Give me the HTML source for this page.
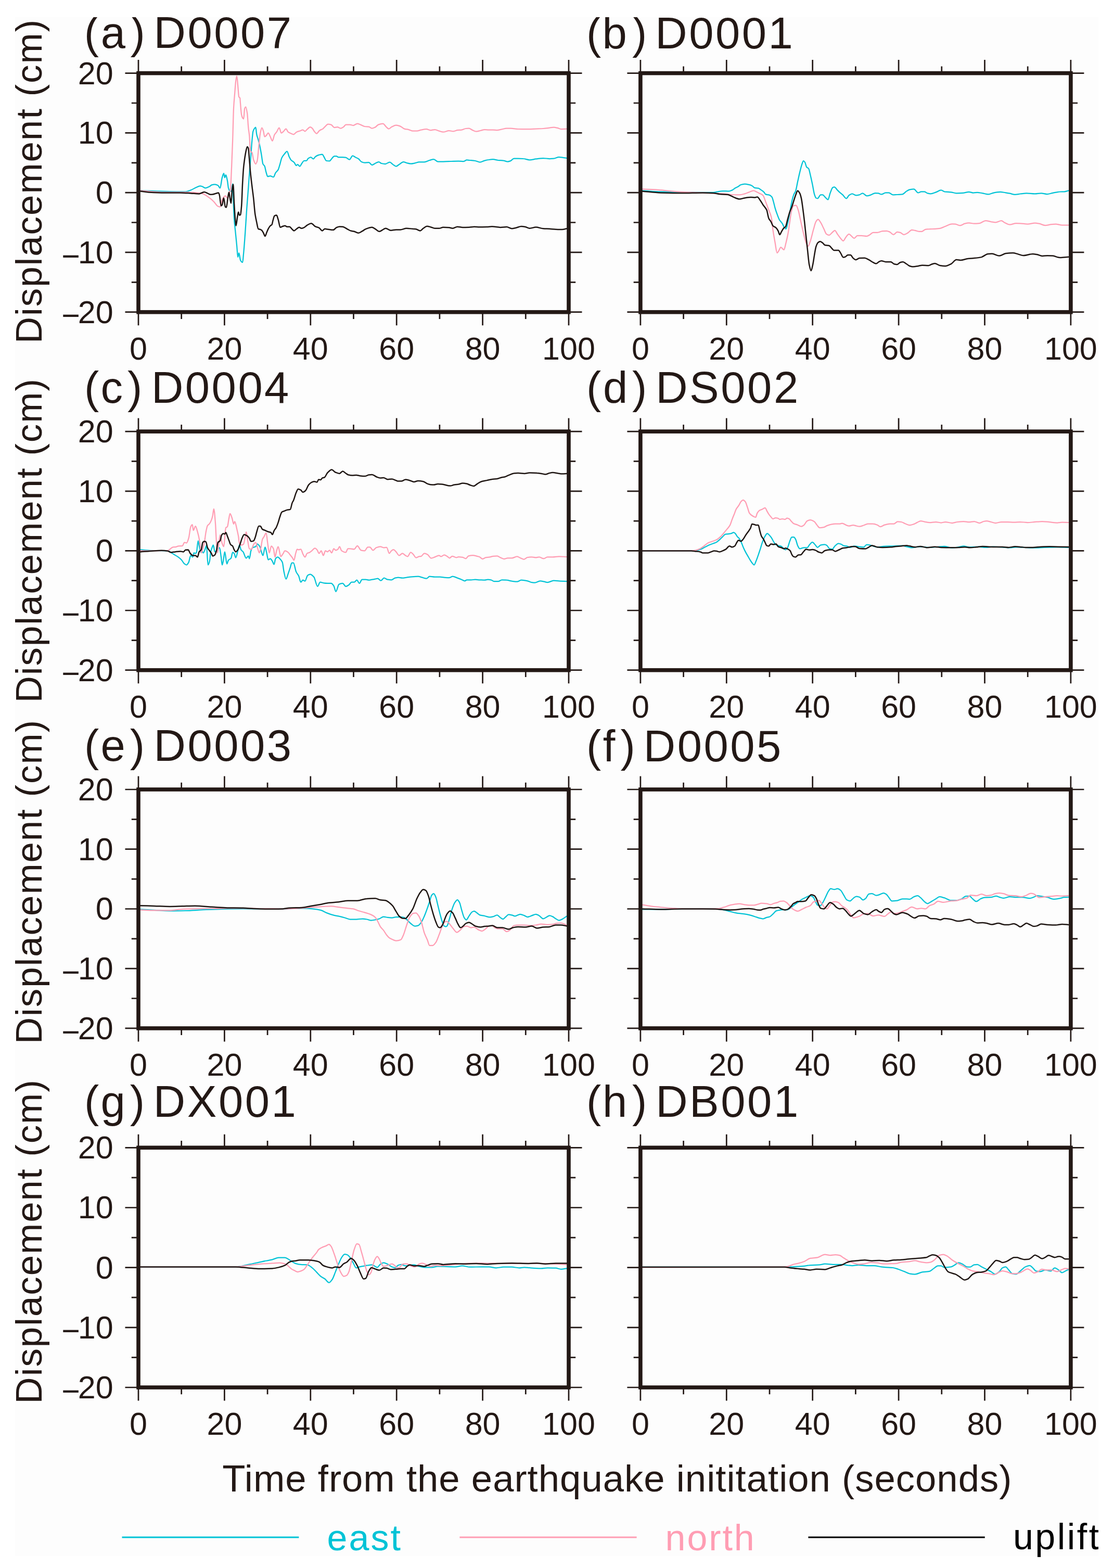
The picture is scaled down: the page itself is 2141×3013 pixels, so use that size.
<!DOCTYPE html>
<html><head><meta charset="utf-8"><title>Displacement time series</title>
<style>html,body{margin:0;padding:0;background:#ffffff;overflow:hidden}svg{display:block}text{font-family:"Liberation Sans",Arial,Helvetica,sans-serif;fill:#231815}</style></head><body>
<svg width="2141" height="3013" viewBox="0 0 2141 3013">
<defs>
<clipPath id="clipAll"><rect x="29" y="33" width="2082" height="2980"/></clipPath>
<clipPath id="cpa"><rect x="266" y="140.6" width="827" height="459.1"/></clipPath>
<clipPath id="cpb"><rect x="1230.9" y="140.6" width="827" height="459.1"/></clipPath>
<clipPath id="cpc"><rect x="266" y="829.1" width="827" height="458.6"/></clipPath>
<clipPath id="cpd"><rect x="1230.9" y="829.1" width="827" height="458.6"/></clipPath>
<clipPath id="cpe"><rect x="266" y="1517" width="827" height="458.9"/></clipPath>
<clipPath id="cpf"><rect x="1230.9" y="1517" width="827" height="458.9"/></clipPath>
<clipPath id="cpg"><rect x="266" y="2205.3" width="827" height="460.7"/></clipPath>
<clipPath id="cph"><rect x="1230.9" y="2205.3" width="827" height="460.7"/></clipPath>
</defs>
<rect x="29" y="33" width="2082" height="2957" fill="#fdfdfd"/>
<g clip-path="url(#clipAll)">
<g clip-path="url(#cpa)" fill="none" stroke-linejoin="round" stroke-linecap="round">
<path stroke="#00c3d6" stroke-width="2.25" d="M270 366.4C298.9 367 327.7 368.4 356.5 368.4C359.9 368.4 363.3 366.6 366.6 365.4C370 364.1 373.3 361.8 376.7 360.3C379.3 359.2 382 357.3 384.7 357.3C386.1 357.3 387.4 357.9 388.7 358.3C390.7 359 392.8 361.3 394.8 361.3C397.5 361.3 400.1 359.7 402.8 358.3C404.2 357.6 405.5 355.7 406.8 355.3C408.9 354.7 410.9 354.3 412.9 354.3C414.9 354.3 416.9 355.2 418.9 356.3C420.3 357 421.6 361.3 422.9 361.3C424.3 361.3 425.6 345.8 427 341.2C428 337.8 429 333.2 430 333.2C430.7 333.2 431.3 341.2 432 341.2C432.7 341.2 433.3 336.2 434 336.2C435 336.2 436 342.3 437 347.2C437.7 350.5 438.4 359.2 439 361.3C440 364.6 441.1 367.4 442.1 367.4C443.1 367.4 444.1 367.4 445.1 367.4C445.7 367.4 446.4 353.3 447.1 353.3C447.8 353.3 448.4 387.1 449.1 401.6C449.4 408.8 449.8 417 450.1 421.7C450.8 431 451.4 435.1 452.1 441.8C453.1 451.9 454.1 461.4 455.1 472C455.8 479 456.5 494.1 457.1 494.1C457.8 494.1 458.5 486.1 459.2 486.1C460.2 486.1 461.2 498.5 462.2 500.2C463.5 502.4 464.9 504.2 466.2 504.2C466.9 504.2 467.5 493.1 468.2 486.1C469.2 475.6 470.2 461.8 471.2 447.8C472.2 433.9 473.2 415.9 474.2 401.6C475.3 387.2 476.3 374.7 477.3 361.3C478.3 347.9 479.3 333.7 480.3 321.1C481 312.6 481.6 305.3 482.3 296.9C483 288.6 483.6 277.9 484.3 270.8C485 263.7 485.7 255 486.3 252.7C487.3 249.2 488.3 248 489.3 246.6C490 245.8 490.7 244.6 491.4 244.6C492 244.6 492.7 255.6 493.4 258.7C494.4 263.4 495.4 265.1 496.4 268.8C497.4 272.4 498.4 276.2 499.4 280.8C500.4 285.4 501.4 291.3 502.4 296.9C503.4 302.6 504.4 312.9 505.4 315.1C506.4 317.2 507.4 317.1 508.5 319.1C509.5 321.1 510.5 327.9 511.5 331.1C512.5 334.4 513.5 339.2 514.5 339.2C516.2 339.2 517.8 338.2 519.5 338.2C521.5 338.2 523.5 340.2 525.6 340.2C526.9 340.2 528.2 334.2 529.6 332.2C531.3 329.6 532.9 329.1 534.6 326.1C535.6 324.3 536.6 320.3 537.6 317.1C539 312.7 540.3 305.7 541.7 303C543.3 299.6 545 297.9 546.7 295.9C548.4 294 550 290.9 551.7 290.9C553.1 290.9 554.4 298.2 555.7 301C557.1 303.7 558.4 306.7 559.8 308C560.8 309 561.8 309.2 562.8 310C563.9 310.9 565 311.7 566 313C567 314.2 568 318.1 569.1 318.1C570.1 318.1 571.1 316.1 572.1 316.1C573.4 316.1 574.8 319.7 576.1 319.7C577.4 319.7 578.8 315.8 580.1 314C581.5 312.3 582.8 309.2 584.1 309C585.8 308.8 587.5 308.9 589.2 308.6C590.2 308.4 591.2 305.4 592.2 304.6C593.9 303.3 595.5 302 597.2 302C598.9 302 600.6 305.4 602.3 305.4C603.6 305.4 604.9 301.9 606.3 301C608.3 299.5 610.3 298.5 612.3 297.9C614.7 297.3 617 296.5 619.4 296.5C620.4 296.5 621.4 299.4 622.4 301C624.1 303.5 625.7 308.8 627.4 309C629.4 309.3 631.4 309.4 633.4 309.4C634.8 309.4 636.1 306.4 637.5 305C639.1 303.2 640.8 300 642.5 300C643.8 300 645.2 300 646.5 300C647.9 300 649.2 302 650.5 302C653.2 302 655.9 302 658.6 302C660.6 302 662.6 302.2 664.6 302.6C667 303 669.3 306.6 671.7 306.6C673.7 306.6 675.7 299.4 677.7 299.4C679.4 299.4 681.1 301.1 682.7 302C684.7 303 686.8 303.6 688.8 305C690.8 306.3 692.8 310.2 694.8 311C696.8 311.9 698.8 312.6 700.8 312.6C703.5 312.6 706.2 312 708.9 312C710.9 312 712.9 317.1 714.9 317.1C716.9 317.1 719 315 721 314C723.3 313 725.7 311 728 311C729.7 311 731.4 313.6 733 314C735.4 314.6 737.7 315.1 740.1 315.1C743.1 315.1 746.1 311.6 749.1 311.6C751.1 311.6 753.2 314.8 755.2 316.1C757.2 317.3 759.2 319.5 761.2 319.5C763.2 319.5 765.2 317.2 767.2 316.1C769.9 314.5 772.6 311 775.3 311C777.3 311 779.3 312.5 781.3 313C784 313.7 786.7 314.6 789.4 314.6C792.1 314.6 794.7 313.9 797.4 313.4C800.1 312.9 802.8 311.4 805.5 311.4C808.8 311.4 812.2 311.4 815.5 311.4C818.9 311.4 822.2 309 825.6 308C828.3 307.2 831 306 833.6 306C836.3 306 839 310.6 841.7 310.6C845 310.6 848.4 310.6 851.8 310.6C856.9 310.6 862 310.2 867.1 310C871.8 309.8 876.5 309.6 881.2 309.6C884.5 309.6 887.9 310 891.2 310C893.2 310 895.2 307.4 897.2 307.4C899.3 307.4 901.3 307.8 903.3 308C906.6 308.3 910 308.5 913.3 309C916.4 309.4 919.4 311.6 922.4 311.6C925.4 311.6 928.4 309.3 931.4 308.6C934.1 307.9 936.8 307.3 939.5 307C942.2 306.6 944.9 306.2 947.5 306.2C950.9 306.2 954.2 307.7 957.6 308C960.9 308.3 964.3 308.2 967.7 308.6C970.3 308.8 973 310.6 975.7 310.6C977.4 310.6 979.1 310 980.7 309.4C983.1 308.6 985.4 304.6 987.8 304.6C990.5 304.6 993.1 304.6 995.8 304.6C999.2 304.6 1002.5 304.7 1005.9 305C1009.9 305.2 1013.9 307.4 1017.9 307.4C1022 307.4 1026 305.9 1030 305.4C1034.7 304.8 1039.4 304 1044.1 304C1048.1 304 1052.1 305 1056.2 305C1058.8 305 1061.5 304.8 1064.2 304.6C1067.6 304.3 1070.9 301.9 1074.3 301.9C1077 301.9 1079.6 302.6 1082.3 302.9C1084.7 303.3 1087 303.6 1089.4 304"/>
<path stroke="#ff9db3" stroke-width="2.25" d="M270 366.4C285.5 367.4 300.9 369.4 316.3 369.4C329.7 369.4 343.1 369.4 356.5 369.4C366.6 369.4 376.7 370.1 386.7 371.4C392.1 372.1 397.5 376.7 402.8 380.4C405.5 382.3 408.2 384.8 410.9 387.5C413.6 390.1 416.2 395.5 418.9 396.5C420.3 397.1 421.6 397.5 422.9 397.5C424.3 397.5 425.6 385.9 427 383.5C429 379.8 431 376.4 433 376.4C434.3 376.4 435.7 380.4 437 380.4C438.4 380.4 439.7 375.7 441.1 371.4C441.7 369.2 442.4 366.7 443.1 361.3C443.7 356 444.4 336 445.1 321.1C445.7 306.2 446.4 289.6 447.1 270.8C447.8 252 448.4 218.8 449.1 206.4C449.8 194 450.4 188.6 451.1 180.2C451.8 171.9 452.5 160.8 453.1 156.1C453.8 151.4 454.5 146 455.1 146C455.8 146 456.5 157.5 457.1 164.1C457.8 170.8 458.5 185 459.2 186.3C459.8 187.5 460.5 186.9 461.2 188.3C461.5 189 461.8 196.7 462.2 200.4C462.8 207.8 463.5 217.4 464.2 220.5C464.9 223.6 465.5 225.5 466.2 226.5C466.9 227.5 467.5 228.5 468.2 228.5C468.9 228.5 469.6 210.2 470.2 208.4C470.9 206.7 471.6 205.4 472.2 205.4C473.2 205.4 474.2 211.7 475.3 218.5C475.9 223 476.6 238 477.3 244.6C477.9 251.3 478.6 253.7 479.3 260.7C480 267.7 480.6 290 481.3 290.9C482.3 292.3 483.3 291.7 484.3 292.9C485.3 294.1 486.3 304.1 487.3 307C488.7 310.8 490 315.1 491.4 315.1C492.4 315.1 493.4 312.3 494.4 309C495.4 305.7 496.4 289.9 497.4 280.8C498.4 271.8 499.4 259.2 500.4 254.7C501.4 250.2 502.4 245.6 503.4 245.6C504.4 245.6 505.4 249.4 506.4 252.7C507.1 254.9 507.8 262.7 508.5 262.7C509.5 262.7 510.5 261.6 511.5 260.7C512.8 259.6 514.2 255.7 515.5 255.7C516.8 255.7 518.2 260.2 519.5 262.7C520.9 265.2 522.2 270.8 523.5 270.8C524.9 270.8 526.2 261.1 527.6 258.7C528.9 256.3 530.3 255.6 531.6 253.7C533.3 251.3 534.9 245.6 536.6 245.6C538 245.6 539.3 255.7 540.6 255.7C542 255.7 543.3 253.8 544.7 252.7C546.3 251.2 548 247.6 549.7 247.6C551 247.6 552.4 252.6 553.7 253.7C555.7 255.2 557.8 255.8 559.8 256.7C561.2 257.3 562.6 258.3 564 258.3C566 258.3 568 254.6 570.1 253.7C572.1 252.7 574.1 252.3 576.1 251.7C578.1 251 580.1 249.7 582.1 249.7C583.5 249.7 584.8 252.3 586.2 252.3C587.5 252.3 588.8 249.7 590.2 248.7C592.2 247 594.2 244.2 596.2 244.2C597.6 244.2 598.9 245.5 600.2 246.6C601.6 247.8 602.9 251.1 604.3 252.7C605.6 254.3 606.9 256.7 608.3 256.7C610.3 256.7 612.3 252 614.3 250.7C616.3 249.3 618.4 249 620.4 247.6C621.7 246.7 623 244.8 624.4 243.6C626.4 241.8 628.4 238.6 630.4 238.6C632.4 238.6 634.4 239 636.5 239.6C638.5 240.2 640.5 245 642.5 245C644.5 245 646.5 244.2 648.5 244.2C650.5 244.2 652.6 246.6 654.6 246.6C656.6 246.6 658.6 245 660.6 243.6C661.9 242.7 663.3 239.6 664.6 239.6C667.3 239.6 670 239.6 672.7 239.6C674.7 239.6 676.7 241 678.7 241C681.4 241 684.1 237.6 686.8 237.6C688.8 237.6 690.8 238.9 692.8 239.6C695.5 240.6 698.2 242.7 700.8 243C703.5 243.4 706.2 243.3 708.9 243.6C710.9 243.9 712.9 246.6 714.9 246.6C716.9 246.6 719 245.6 721 244.6C723 243.7 725 240.3 727 239.6C730 238.5 733 237.6 736.1 237.6C738.1 237.6 740.1 241.8 742.1 243.6C743.8 245.1 745.4 247.6 747.1 247.6C749.1 247.6 751.1 244.6 753.2 243.6C755.8 242.3 758.5 240.6 761.2 240.6C763.9 240.6 766.6 241.7 769.3 242.6C771.9 243.6 774.6 246.9 777.3 247.6C780 248.4 782.7 248.4 785.4 249.1C788 249.7 790.7 251.7 793.4 251.7C796.1 251.7 798.8 251.7 801.4 251.7C804.1 251.7 806.8 250.1 809.5 249.7C812.9 249 816.2 248.2 819.6 248.2C822.2 248.2 824.9 250.3 827.6 250.3C830.3 250.3 833 249.1 835.7 249.1C838.3 249.1 841 250.9 843.7 251.7C846.4 252.4 849.1 253.7 851.8 253.7C855.5 253.7 859.3 251.2 863 251.2C865.7 251.2 868.4 252.3 871.1 252.3C873.8 252.3 876.5 250.5 879.1 250.2C881.8 249.9 884.5 250 887.2 249.6C889.9 249.3 892.6 247.3 895.2 247C897.2 246.8 899.3 246.6 901.3 246.6C903.3 246.6 905.3 248.8 907.3 249.6C910 250.8 912.7 252.7 915.4 252.7C918 252.7 920.7 251.6 923.4 251C926.1 250.4 928.8 249 931.4 249C934.1 249 936.8 249.6 939.5 249.6C942.2 249.6 944.9 249.6 947.5 249.6C950.2 249.6 952.9 250.2 955.6 250.2C958.3 250.2 960.9 249.2 963.6 248.6C967 248 970.3 246.6 973.7 246.6C976.4 246.6 979.1 246.6 981.7 246.6C986.4 246.6 991.1 247.9 995.8 248C1001.9 248.2 1007.9 248.2 1013.9 248.2C1019.3 248.2 1024.7 247.8 1030 247.6C1034.7 247.4 1039.4 247.3 1044.1 247C1048.1 246.8 1052.1 246.1 1056.2 245.6C1058.8 245.3 1061.5 244.6 1064.2 244.6C1066.9 244.6 1069.6 245.6 1072.3 246.2C1074.3 246.7 1076.3 248 1078.3 248C1082 248 1085.7 247.8 1089.4 247.6"/>
<path stroke="#1e1512" stroke-width="2.5" d="M270 367.4C275.4 368 280.8 369.1 286.1 369.4C296.2 369.9 306.2 370.4 316.3 370.4C326.4 370.4 336.4 370.4 346.5 370.4C353.2 370.4 359.9 371 366.6 371.4C372 371.7 377.3 372.4 382.7 372.4C384 372.4 385.4 371.4 386.7 371C388.7 370.3 390.7 369 392.8 369C394.8 369 396.8 370.6 398.8 371.4C400.8 372.2 402.8 373.8 404.8 373.8C406.2 373.8 407.5 373.6 408.9 373.4C410.9 373.1 412.9 372.3 414.9 371.8C416.6 371.3 418.2 370.4 419.9 370.4C420.6 370.4 421.3 373 421.9 375.4C422.9 379 423.9 395.5 425 395.5C425.6 395.5 426.3 394.6 427 393.5C428 392 429 380.4 430 380.4C431 380.4 432 396.7 433 397.5C433.7 398.1 434.3 398.6 435 398.6C436 398.6 437 385 438 379.4C438.7 375.7 439.4 369.4 440 369.4C440.7 369.4 441.4 378 442.1 381.4C442.7 384.9 443.4 390.5 444.1 390.5C444.7 390.5 445.4 370.5 446.1 365.4C446.8 360.2 447.4 354.3 448.1 354.3C448.8 354.3 449.4 380.4 450.1 391.5C450.8 402.6 451.4 414.5 452.1 421.7C452.6 426.7 453.1 433.8 453.5 433.8C454.4 433.8 455.3 422.5 456.1 417.7C456.8 414 457.5 407.6 458.2 407.6C458.8 407.6 459.5 413.6 460.2 413.6C460.8 413.6 461.5 413.3 462.2 412.6C462.8 412 463.5 403.8 464.2 395.5C464.9 387.3 465.5 363.2 466.2 351.3C466.9 339.3 467.5 328.1 468.2 321.1C468.9 314.1 469.6 309.6 470.2 305C470.9 300.4 471.6 296 472.2 292.9C473.2 288.3 474.2 281.9 475.3 281.9C475.9 281.9 476.6 283.1 477.3 284.9C477.9 286.6 478.6 299.3 479.3 307C480 314.7 480.6 324.3 481.3 331.1C482.3 341.4 483.3 348.9 484.3 357.3C485.3 365.7 486.3 372.5 487.3 381.4C488.3 390.4 489.3 404.6 490.3 411.6C491.4 418.6 492.4 423.1 493.4 427.7C494.4 432.3 495.4 439.3 496.4 439.8C497.7 440.5 499.1 440.3 500.4 440.8C501.4 441.2 502.4 441.9 503.4 442.8C504.4 443.8 505.4 446 506.4 447.8C507.4 449.7 508.5 453.9 509.5 453.9C510.5 453.9 511.5 449.2 512.5 446.8C513.5 444.5 514.5 441.7 515.5 439.8C516.8 437.3 518.2 435 519.5 433.8C520.5 432.9 521.5 433 522.5 431.8C523.2 430.9 523.9 426 524.6 423.7C525.6 420.2 526.6 415.1 527.6 414.6C528.9 414 530.3 413.6 531.6 413.6C532.6 413.6 533.6 418.6 534.6 421.7C536 425.8 537.3 436.8 538.6 436.8C540.3 436.8 542 435.3 543.7 434.8C545 434.4 546.3 433.8 547.7 433.8C549 433.8 550.4 435.8 551.7 435.8C553.4 435.8 555.1 435.8 556.7 435.8C558.1 435.8 559.4 438.6 560.8 439.8C562.2 441.1 563.6 443.4 565 443.4C566.7 443.4 568.4 440.9 570.1 439.8C571.7 438.7 573.4 436.8 575.1 436.8C576.4 436.8 577.8 438.8 579.1 438.8C580.8 438.8 582.5 438.1 584.1 437.4C586.2 436.6 588.2 433.9 590.2 432.8C592.9 431.3 595.5 429.3 598.2 429.3C600.9 429.3 603.6 434.1 606.3 435.4C608.6 436.5 611 436.6 613.3 437.8C615.3 438.8 617.3 443.4 619.4 443.4C621 443.4 622.7 439.8 624.4 439.8C626.1 439.8 627.7 440.2 629.4 440.4C633.1 440.9 636.8 441.8 640.5 441.8C642.5 441.8 644.5 438.3 646.5 437.4C648.5 436.5 650.5 435.4 652.6 435.4C654.6 435.4 656.6 435.6 658.6 435.8C661.9 436.1 665.3 439.1 668.7 440.8C670.3 441.7 672 442.9 673.7 443.4C676 444.1 678.4 444.2 680.7 444.8C683.4 445.5 686.1 447.8 688.8 447.8C691.5 447.8 694.1 445.3 696.8 443.8C698.8 442.7 700.8 441 702.9 440.2C706.9 438.6 710.9 436.8 714.9 436.8C716.9 436.8 719 438.7 721 439.8C723.6 441.3 726.3 444.8 729 444.8C731 444.8 733 442.8 735.1 441.8C737.1 440.8 739.1 438.8 741.1 438.8C744.4 438.8 747.8 442.8 751.1 442.8C754.5 442.8 757.9 441.4 761.2 441.4C763.9 441.4 766.6 441.4 769.3 441.4C773.3 441.4 777.3 438.8 781.3 438.8C785.4 438.8 789.4 439.5 793.4 439.8C795.4 439.9 797.4 440 799.4 440.2C802.1 440.5 804.8 443.4 807.5 443.4C809.5 443.4 811.5 440.1 813.5 438.8C815.9 437.2 818.2 434.8 820.6 434.8C822.9 434.8 825.3 435.6 827.6 436.2C830.3 436.8 833 438.8 835.7 438.8C838.3 438.8 841 438.8 843.7 438.8C846.4 438.8 849.1 436.8 851.8 436.8C855.5 436.8 859.3 437 863 437.3C865.4 437.5 867.7 438.7 870.1 438.7C873.1 438.7 876.1 435.7 879.1 435.7C882.5 435.7 885.8 436.9 889.2 436.9C893.2 436.9 897.2 436.8 901.3 436.7C904.6 436.6 908 435.7 911.3 435.7C914.7 435.7 918 436.3 921.4 436.3C926.1 436.3 930.8 436.2 935.5 436.1C938.8 436 942.2 435.3 945.5 435.3C950.9 435.3 956.3 436.9 961.6 436.9C965.6 436.9 969.7 436.1 973.7 436.1C977 436.1 980.4 439.3 983.7 439.3C986.4 439.3 989.1 438.3 991.8 437.7C995.1 437 998.5 435.1 1001.9 435.1C1004.5 435.1 1007.2 435.6 1009.9 436.1C1012.6 436.6 1015.3 438.7 1017.9 438.7C1022 438.7 1026 436.5 1030 436.5C1034.7 436.5 1039.4 439.1 1044.1 439.3C1048.1 439.6 1052.1 439.5 1056.2 439.7C1060.2 439.9 1064.2 440.6 1068.2 440.7C1072.3 440.9 1076.3 441.1 1080.3 441.1C1083.3 441.1 1086.3 439.9 1089.4 439.3"/>
</g>
<g clip-path="url(#cpb)" fill="none" stroke-linejoin="round" stroke-linecap="round">
<path stroke="#00c3d6" stroke-width="2.25" d="M1234 366.4C1246.1 367 1258.2 368 1270.2 368.4C1283.7 368.8 1297.1 369.2 1310.5 369.4C1323.9 369.6 1337.3 369.8 1350.7 369.8C1357.4 369.8 1364.1 369.8 1370.8 369.8C1373.5 369.8 1376.2 368.8 1378.9 368.4C1382.2 367.8 1385.6 367 1389 367C1393 367 1397 367.4 1401 367.4C1403 367.4 1405.1 366.2 1407.1 365.4C1409.1 364.5 1411.1 362.5 1413.1 361.3C1415.1 360.2 1417.1 359.5 1419.1 358.3C1420.5 357.5 1421.8 355.7 1423.2 355.3C1425.8 354.4 1428.5 353.7 1431.2 353.7C1433.9 353.7 1436.6 354.3 1439.3 354.9C1441.3 355.3 1443.3 355.9 1445.3 356.9C1447 357.7 1448.6 360.6 1450.3 360.9C1452.7 361.4 1455 361.3 1457.4 361.7C1459.4 362.1 1461.4 364 1463.4 365.4C1465.1 366.5 1466.8 367.7 1468.4 369.4C1469.4 370.4 1470.4 373.1 1471.4 373.4C1473.5 374.1 1475.5 373.9 1477.5 374.4C1479.5 374.9 1481.5 376.1 1483.5 378.4C1484.5 379.6 1485.5 384 1486.5 387.5C1487.5 390.9 1488.6 396.1 1489.6 399.6C1490.9 404.2 1492.2 408 1493.6 411.6C1494.9 415.3 1496.3 419.3 1497.6 421.7C1499.6 425.3 1501.6 426.4 1503.6 429.7C1504.6 431.4 1505.7 434.4 1506.7 435.8C1508 437.6 1509.3 439.8 1510.7 439.8C1511.7 439.8 1512.7 433.7 1513.7 429.7C1515 424.4 1516.4 416.6 1517.7 409.6C1519.1 402.6 1520.4 393.2 1521.8 387.5C1523.1 381.7 1524.4 376.6 1525.8 373.4C1526.9 370.8 1527.9 370.2 1529 367.4C1530.4 363.9 1531.7 355.3 1533 349.3C1534.4 343.2 1535.7 336.6 1537.1 331.1C1538.4 325.7 1539.8 319.9 1541.1 316.1C1542.1 313.2 1543.1 309 1544.1 309C1545.1 309 1546.1 310.5 1547.1 312C1548.1 313.5 1549.1 319.8 1550.2 321.1C1551.5 322.7 1552.8 322.4 1554.2 324.1C1555.2 325.4 1556.2 331.1 1557.2 335.2C1558.5 340.6 1559.9 346.9 1561.2 353.3C1562.6 359.6 1563.9 369.2 1565.2 373.4C1566.2 376.5 1567.3 379.9 1568.3 380.4C1569.3 381 1570.3 381.4 1571.3 381.4C1573.3 381.4 1575.3 374.4 1577.3 374.4C1578.7 374.4 1580 374.4 1581.3 374.4C1582.7 374.4 1584 377.2 1585.4 378.4C1587.4 380.3 1589.4 383.5 1591.4 383.5C1592.7 383.5 1594.1 374.8 1595.4 371.4C1597.1 367.1 1598.8 361.2 1600.5 360.3C1601.5 359.8 1602.5 359.3 1603.5 359.3C1605.5 359.3 1607.5 363.3 1609.5 365.4C1610.8 366.7 1612.2 368.1 1613.5 369.4C1615.5 371.2 1617.6 372.6 1619.6 374.4C1621.9 376.5 1624.3 381.4 1626.6 381.4C1628.3 381.4 1630 376.6 1631.6 375.4C1633.7 374 1635.7 372.4 1637.7 372.4C1640.4 372.4 1643 375.4 1645.7 375.4C1647.7 375.4 1649.7 374.9 1651.8 374.4C1653.8 373.9 1655.8 371.4 1657.8 371.4C1660.5 371.4 1663.2 376.4 1665.8 376.4C1668.5 376.4 1671.2 375.3 1673.9 374.4C1676.6 373.6 1679.3 371 1681.9 371C1684 371 1686 371.2 1688 371.4C1690 371.6 1692 373.4 1694 373.4C1696.7 373.4 1699.4 370.4 1702.1 370.4C1704.1 370.4 1706.1 370.4 1708.1 370.4C1710.8 370.4 1713.5 374.4 1716.1 374.4C1718.8 374.4 1721.5 374.1 1724.2 374C1727.5 373.8 1730.9 373.8 1734.3 373.4C1736.9 373.1 1739.6 369 1742.3 367.4C1744.3 366.2 1746.3 364.8 1748.3 364.3C1751 363.8 1753.7 363.3 1756.4 363.3C1759.1 363.3 1761.8 370.4 1764.4 370.4C1766.4 370.4 1768.5 368.4 1770.5 368.4C1772.5 368.4 1774.5 368.4 1776.5 368.4C1778.5 368.4 1780.5 370.9 1782.5 371.4C1784.6 371.9 1786.6 372.4 1788.6 372.4C1791.9 372.4 1795.3 370.5 1798.6 369.4C1802 368.2 1805.3 365.4 1808.7 365.4C1811 365.4 1813.4 368 1815.7 368.4C1819.8 368.9 1823.9 368.9 1828 369.3C1831.4 369.7 1834.8 371.3 1838.1 371.3C1842.1 371.3 1846.2 371.2 1850.2 370.9C1854.2 370.7 1858.2 368.9 1862.2 368.9C1864.9 368.9 1867.6 370.5 1870.3 370.5C1873 370.5 1875.7 369.9 1878.3 369.9C1881.7 369.9 1885 370.8 1888.4 371.3C1892.1 371.9 1895.8 373.4 1899.5 373.4C1903.1 373.4 1906.8 370.9 1910.5 370.3C1914.5 369.7 1918.6 368.9 1922.6 368.9C1925.9 368.9 1929.3 369.8 1932.7 370.3C1935.3 370.8 1938 371.2 1940.7 371.7C1944.1 372.4 1947.4 373.8 1950.8 373.8C1954.1 373.8 1957.5 372.9 1960.8 372.5C1964.8 372.1 1968.9 371.3 1972.9 371.3C1978.3 371.3 1983.6 372.3 1989 372.3C1993 372.3 1997 371.3 2001.1 371.3C2004.7 371.3 2008.4 373 2012.1 373C2015.8 373 2019.5 371.6 2023.2 370.9C2027.9 370.1 2032.6 368.7 2037.3 368.5C2039.9 368.4 2042.6 368.4 2045.3 368.3C2048 368.2 2050.7 367 2053.4 366.3"/>
<path stroke="#ff9db3" stroke-width="2.25" d="M1234 363.3C1242.7 363.7 1251.5 363.9 1260.2 364.3C1270.2 364.9 1280.3 366.6 1290.4 367.4C1300.4 368.2 1310.5 368.9 1320.5 369.4C1330.6 369.8 1340.7 370 1350.7 370.4C1357.4 370.7 1364.1 371.1 1370.8 371.4C1377.6 371.7 1384.3 371.9 1391 372.4C1395.7 372.7 1400.4 373.8 1405.1 374C1410.4 374.2 1415.8 374.4 1421.1 374.4C1424.5 374.4 1427.9 373.3 1431.2 372.4C1433.9 371.7 1436.6 370.3 1439.3 369.4C1442.3 368.3 1445.3 366.4 1448.3 366.4C1450 366.4 1451.7 367.6 1453.3 368.4C1455.4 369.3 1457.4 370.3 1459.4 371.4C1461.7 372.6 1464.1 373.2 1466.4 375.4C1468.1 377 1469.8 383.3 1471.4 387.5C1473.5 392.6 1475.5 398.1 1477.5 403.6C1479.2 408.2 1480.8 410.4 1482.5 417.7C1483.5 422 1484.5 434.9 1485.5 441.8C1486.9 451.1 1488.2 458.6 1489.6 466C1490.9 473.3 1492.2 486.1 1493.6 486.1C1494.6 486.1 1495.6 483.6 1496.6 482.1C1497.9 480 1499.3 475 1500.6 475C1502.6 475 1504.6 480 1506.7 480C1508 480 1509.3 471.2 1510.7 466C1512 460.7 1513.4 455.1 1514.7 447.8C1515.7 442.4 1516.7 434.4 1517.7 427.7C1518.7 421 1519.7 411.8 1520.7 407.6C1522.1 402 1523.4 396 1524.8 395.5C1526.5 394.9 1528.3 394.5 1530 394.5C1531.4 394.5 1532.7 399.6 1534.1 403.6C1535.7 408.5 1537.4 418.4 1539.1 425.7C1541.1 434.5 1543.1 444.1 1545.1 451.9C1546.5 457 1547.8 462.8 1549.1 466C1550.5 469.1 1551.8 473 1553.2 473C1554.5 473 1555.9 467.6 1557.2 463.9C1559.2 458.4 1561.2 448.7 1563.2 441.8C1564.9 436.1 1566.6 428.2 1568.3 425.7C1569.6 423.7 1570.9 421.7 1572.3 421.7C1574 421.7 1575.6 425.2 1577.3 427.7C1579.3 430.7 1581.3 435.8 1583.4 439.8C1585 443.2 1586.7 448.7 1588.4 449.9C1590.1 451 1591.7 451.9 1593.4 451.9C1595.4 451.9 1597.4 448.5 1599.4 446.8C1601.1 445.5 1602.8 442.8 1604.5 442.8C1606.2 442.8 1607.8 447.6 1609.5 449.9C1611.5 452.6 1613.5 455.6 1615.5 457.9C1617.2 459.8 1618.9 462.9 1620.6 462.9C1622.3 462.9 1623.9 457.9 1625.6 455.9C1627.6 453.5 1629.6 449.9 1631.6 449.9C1633.3 449.9 1635 452.5 1636.7 453.9C1638.3 455.2 1640 457.9 1641.7 457.9C1643.7 457.9 1645.7 452.9 1647.7 452.9C1650.4 452.9 1653.1 452.9 1655.8 452.9C1659.1 452.9 1662.5 453.9 1665.8 453.9C1667.9 453.9 1669.9 452 1671.9 450.9C1673.9 449.7 1675.9 446.8 1677.9 446.8C1680.6 446.8 1683.3 446.8 1686 446.8C1689.3 446.8 1692.7 444.5 1696 444.2C1698.7 444 1701.4 443.8 1704.1 443.8C1706.1 443.8 1708.1 444.9 1710.1 445.8C1712.5 446.9 1714.8 450.9 1717.2 450.9C1719.5 450.9 1721.8 445.8 1724.2 445.8C1726.2 445.8 1728.2 446.3 1730.2 446.8C1732.6 447.4 1734.9 450.9 1737.3 450.9C1739.6 450.9 1742 449.1 1744.3 447.8C1747 446.4 1749.7 441.8 1752.4 441.8C1754.4 441.8 1756.4 442.4 1758.4 442.8C1761.1 443.3 1763.8 444.8 1766.4 444.8C1768.1 444.8 1769.8 444.8 1771.5 444.8C1773.8 444.8 1776.2 441.1 1778.5 440.8C1781.2 440.4 1783.9 440.3 1786.6 440.2C1789.9 440 1793.3 440 1796.6 439.8C1800 439.6 1803.3 439.3 1806.7 438.8C1809.4 438.4 1812.1 436.8 1814.7 435.8C1819.8 433.9 1825 430.3 1830.1 430.3C1832.1 430.3 1834.1 430.5 1836.1 430.7C1839.1 431 1842.1 433.3 1845.1 433.3C1848.2 433.3 1851.2 430.4 1854.2 429.7C1856.9 429 1859.6 428.3 1862.2 428.3C1865.6 428.3 1869 429.7 1872.3 429.7C1875.7 429.7 1879 429.4 1882.4 429.1C1886.4 428.7 1890.4 424 1894.4 424C1897.8 424 1901.1 425.5 1904.5 426.1C1907.5 426.5 1910.5 427.3 1913.5 427.3C1917.2 427.3 1920.9 424.2 1924.6 424.2C1926.6 424.2 1928.6 426.7 1930.6 427.7C1934 429.3 1937.3 431.7 1940.7 431.7C1944.7 431.7 1948.7 429.1 1952.8 429.1C1955.5 429.1 1958.1 429.2 1960.8 429.3C1965.5 429.5 1970.2 430.7 1974.9 430.7C1979.6 430.7 1984.3 428.7 1989 428.7C1991.7 428.7 1994.3 429.2 1997 429.7C2001.1 430.4 2005.1 433.1 2009.1 433.1C2013.1 433.1 2017.1 431.4 2021.2 431.1C2023.8 430.9 2026.5 430.7 2029.2 430.7C2033.2 430.7 2037.3 432.7 2041.3 432.7C2045.3 432.7 2049.3 432.7 2053.4 432.7"/>
<path stroke="#1e1512" stroke-width="2.5" d="M1234 367.4C1246.1 368.4 1258.2 370.1 1270.2 370.4C1283.7 370.7 1297.1 371 1310.5 371C1323.9 371 1337.3 370.4 1350.7 370.4C1357.4 370.4 1364.1 370.6 1370.8 371C1374.9 371.2 1378.9 372.6 1382.9 373C1388.3 373.5 1393.6 373.4 1399 374C1401 374.2 1403 375.5 1405.1 376.4C1407.1 377.3 1409.1 378.7 1411.1 379.4C1414.4 380.7 1417.8 382.5 1421.1 382.5C1424.5 382.5 1427.9 380.9 1431.2 380.4C1435.2 379.8 1439.3 379 1443.3 379C1446 379 1448.6 379.4 1451.3 379.4C1452.7 379.4 1454 378.4 1455.4 378.4C1457.4 378.4 1459.4 382.7 1461.4 385.5C1463.1 387.7 1464.7 391 1466.4 393.5C1468.8 397.1 1471.1 398.4 1473.5 403.6C1474.8 406.5 1476.1 416.8 1477.5 419.7C1478.8 422.6 1480.2 423.4 1481.5 425.7C1482.9 428 1484.2 432.4 1485.5 433.8C1487.5 435.8 1489.6 435.9 1491.6 437.8C1492.9 439.1 1494.3 441.3 1495.6 443.8C1496.6 445.7 1497.6 450.9 1498.6 450.9C1499.6 450.9 1500.6 447.5 1501.6 445.8C1503.3 443.1 1505 439.3 1506.7 437.8C1507.7 436.9 1508.7 436.9 1509.7 435.8C1511 434.3 1512.4 426.4 1513.7 421.7C1515 417 1516.4 411.5 1517.7 407.6C1519.1 403.7 1520.4 401.2 1521.8 397.5C1524.2 391 1526.6 381.6 1529 375.4C1530.4 372 1531.7 366.4 1533 366.4C1534.4 366.4 1535.7 368.9 1537.1 371.4C1538.1 373.3 1539.1 377 1540.1 381.4C1541.1 385.9 1542.1 394.3 1543.1 401.6C1544.1 408.9 1545.1 417 1546.1 425.7C1547.1 434.4 1548.1 444.5 1549.1 453.9C1550.2 463.3 1551.2 473 1552.2 482.1C1553.2 491.1 1554.2 503.3 1555.2 508.2C1556.4 514.1 1557.6 520.3 1558.8 520.3C1559.9 520.3 1561.1 513.3 1562.2 508.2C1563.2 503.7 1564.2 495.8 1565.2 490.1C1566.2 484.4 1567.3 477 1568.3 474C1569.6 470 1570.9 467 1572.3 466C1573.6 464.9 1575 463.9 1576.3 463.9C1578 463.9 1579.7 465.7 1581.3 467C1582.7 468 1584 470.7 1585.4 471C1588 471.6 1590.7 471.4 1593.4 472C1595.4 472.5 1597.4 476 1599.4 478C1600.5 479 1601.5 481 1602.5 481C1605.5 481 1608.5 481 1611.5 481C1612.9 481 1614.2 484.2 1615.5 486.1C1617.2 488.5 1618.9 494.5 1620.6 494.5C1621.6 494.5 1622.6 494.3 1623.6 494.1C1625.6 493.7 1627.6 490.1 1629.6 490.1C1631.3 490.1 1633 490.1 1634.7 490.1C1636.3 490.1 1638 494.8 1639.7 496.1C1641.4 497.5 1643 499.2 1644.7 499.2C1647.1 499.2 1649.4 496.3 1651.8 496.1C1655.1 495.9 1658.5 495.7 1661.8 495.7C1664.5 495.7 1667.2 497.8 1669.9 499.2C1672.6 500.5 1675.2 502.9 1677.9 504.2C1679.9 505.2 1681.9 506.6 1684 506.6C1685.6 506.6 1687.3 504 1689 503.2C1690.7 502.3 1692.3 501.2 1694 501.2C1696.7 501.2 1699.4 503.2 1702.1 503.2C1705.4 503.2 1708.8 503.2 1712.1 503.2C1714.1 503.2 1716.1 506.7 1718.2 507.2C1720.2 507.7 1722.2 508.2 1724.2 508.2C1726.2 508.2 1728.2 504.8 1730.2 504.2C1731.9 503.7 1733.6 503.2 1735.3 503.2C1737.6 503.2 1740 505.8 1742.3 507.2C1744.3 508.4 1746.3 510.5 1748.3 511.2C1750.4 511.9 1752.4 512.6 1754.4 512.6C1757.7 512.6 1761.1 511.8 1764.4 511.2C1767.1 510.8 1769.8 509.8 1772.5 509.8C1776.5 509.8 1780.5 510.2 1784.6 510.2C1786.6 510.2 1788.6 508.5 1790.6 507.8C1792.6 507.2 1794.6 506.2 1796.6 506.2C1800 506.2 1803.3 509.7 1806.7 510.2C1810 510.8 1813.4 511.2 1816.8 511.2C1820.5 511.2 1824.3 509 1828 507.1C1831.4 505.4 1834.8 499.1 1838.1 499.1C1840.8 499.1 1843.5 500.1 1846.2 500.1C1850.8 500.1 1855.5 497.6 1860.2 497.1C1864.3 496.6 1868.3 496.5 1872.3 496.1C1877 495.6 1881.7 495.1 1886.4 494.1C1890.4 493.1 1894.4 488.4 1898.5 488C1901.1 487.8 1903.8 487.6 1906.5 487.6C1911.2 487.6 1915.9 491.6 1920.6 491.6C1924.6 491.6 1928.6 487.5 1932.7 487C1937.3 486.4 1942 486 1946.7 486C1950.1 486 1953.4 487.6 1956.8 488.4C1960.1 489.3 1963.5 491 1966.9 491C1972.9 491 1978.9 488 1985 488C1987.6 488 1990.3 488.6 1993 489C1996.4 489.6 1999.7 492 2003.1 492C2006.4 492 2009.8 491.2 2013.1 491.2C2016.5 491.2 2019.8 491.4 2023.2 491.6C2027.9 491.9 2032.6 495.1 2037.3 495.1C2042.6 495.1 2048 494.1 2053.4 493.7"/>
</g>
<g clip-path="url(#cpc)" fill="none" stroke-linejoin="round" stroke-linecap="round">
<path stroke="#00c3d6" stroke-width="2.25" d="M270 1056.4C278.7 1056.9 287.5 1057.8 296.2 1058C304.9 1058.2 313.6 1058.1 322.3 1058.4C324.4 1058.5 326.4 1060.2 328.4 1061.4C330.4 1062.5 332.4 1064.1 334.4 1065.4C337.1 1067.2 339.8 1068.5 342.5 1070.4C344.5 1071.9 346.5 1073.4 348.5 1075.5C350.5 1077.5 352.5 1082.1 354.5 1083.5C355.9 1084.5 357.2 1085.5 358.6 1085.5C359.9 1085.5 361.2 1082.9 362.6 1080.5C363.9 1078.1 365.3 1067.4 366.6 1067.4C367.9 1067.4 369.3 1070.4 370.6 1070.4C371.3 1070.4 372 1062.4 372.6 1062.4C373.6 1062.4 374.7 1063.4 375.7 1063.4C376.3 1063.4 377 1062.5 377.7 1061.4C378.7 1059.7 379.7 1039.3 380.7 1039.3C381.4 1039.3 382 1045.4 382.7 1048.3C383.7 1052.8 384.7 1061.4 385.7 1061.4C386.4 1061.4 387.1 1058.4 387.7 1058.4C388.7 1058.4 389.7 1062.4 390.7 1062.4C391.8 1062.4 392.8 1058.7 393.8 1056.4C394.8 1054.1 395.8 1048.3 396.8 1048.3C397.8 1048.3 398.8 1085.5 399.8 1085.5C400.8 1085.5 401.8 1082.3 402.8 1078.5C403.5 1075.9 404.2 1064.7 404.8 1061.4C405.5 1058.1 406.2 1056.3 406.8 1054.4C407.9 1051.5 408.9 1047.3 409.9 1047.3C410.9 1047.3 411.9 1060.4 412.9 1060.4C413.9 1060.4 414.9 1059.3 415.9 1058.4C416.9 1057.5 417.9 1055.2 418.9 1054.4C419.9 1053.5 420.9 1052.3 421.9 1052.3C422.9 1052.3 423.9 1063.7 425 1070.4C425.6 1075 426.3 1085.5 427 1085.5C427.6 1085.5 428.3 1081.4 429 1078.5C430 1074.1 431 1060.4 432 1060.4C433.3 1060.4 434.7 1083.5 436 1083.5C437 1083.5 438 1077.7 439 1076.5C440.7 1074.4 442.4 1074.8 444.1 1072.5C445.1 1071.1 446.1 1061.4 447.1 1061.4C448.1 1061.4 449.1 1062.3 450.1 1063.4C451.1 1064.5 452.1 1071.5 453.1 1071.5C454.5 1071.5 455.8 1063 457.1 1058.4C458.2 1054.9 459.2 1047.3 460.2 1047.3C461.2 1047.3 462.2 1054.8 463.2 1056.4C464.5 1058.4 465.9 1058.6 467.2 1060.4C469.2 1063 471.2 1072.5 473.2 1072.5C474.6 1072.5 475.9 1068.4 477.3 1068.4C477.9 1068.4 478.6 1073.5 479.3 1073.5C480.3 1073.5 481.3 1061.3 482.3 1058.4C483.3 1055.5 484.3 1053 485.3 1052.3C487.3 1051.1 489.3 1051.5 491.4 1050.3C492.4 1049.7 493.4 1045.3 494.4 1045.3C496 1045.3 497.7 1047.6 499.4 1050.3C500.4 1051.9 501.4 1057.6 502.4 1060.4C503.4 1063.1 504.4 1067.4 505.4 1067.4C506.8 1067.4 508.1 1051.3 509.5 1051.3C510.5 1051.3 511.5 1058.4 512.5 1062.4C513.5 1066.4 514.5 1075.5 515.5 1075.5C516.8 1075.5 518.2 1073.5 519.5 1073.5C520.9 1073.5 522.2 1076.4 523.5 1078.5C524.6 1080.1 525.6 1084.5 526.6 1084.5C527.6 1084.5 528.6 1074.8 529.6 1073.5C530.9 1071.7 532.3 1070.4 533.6 1070.4C535.3 1070.4 537 1072.7 538.6 1074.5C540 1075.9 541.3 1077.2 542.7 1080.5C543.7 1083 544.7 1094.1 545.7 1098.6C547 1104.6 548.4 1112.7 549.7 1112.7C551 1112.7 552.4 1106.3 553.7 1102.6C555.1 1099 556.4 1094.6 557.8 1090.6C558.8 1087.6 559.8 1081.5 560.8 1081.5C561.9 1081.5 562.9 1081.5 564 1081.5C565.7 1081.5 567.4 1095 569.1 1098.6C570.7 1102.3 572.4 1103.1 574.1 1106.7C575.4 1109.5 576.8 1118.7 578.1 1118.7C579.5 1118.7 580.8 1114.7 582.1 1114.7C583.5 1114.7 584.8 1116.7 586.2 1116.7C587.8 1116.7 589.5 1106.8 591.2 1105.7C592.9 1104.5 594.5 1103.6 596.2 1103.6C598.6 1103.6 600.9 1106.1 603.3 1108.7C605.6 1111.3 608 1126.8 610.3 1126.8C612 1126.8 613.7 1118.7 615.3 1118.7C617.7 1118.7 620 1120.1 622.4 1120.3C624.7 1120.6 627.1 1120.8 629.4 1120.8C631.8 1120.8 634.1 1120.8 636.5 1120.8C638.1 1120.8 639.8 1123.3 641.5 1125.8C642.8 1127.8 644.2 1136.8 645.5 1136.8C647.5 1136.8 649.5 1123.8 651.5 1122.8C653.9 1121.5 656.2 1120.8 658.6 1120.8C660.6 1120.8 662.6 1126.8 664.6 1126.8C666.6 1126.8 668.7 1125.1 670.7 1123.8C672.3 1122.6 674 1118.7 675.7 1118.7C677.4 1118.7 679 1118.7 680.7 1118.7C682.4 1118.7 684.1 1114.7 685.8 1114.7C687.4 1114.7 689.1 1120.8 690.8 1120.8C692.5 1120.8 694.1 1113.7 695.8 1113.7C698.2 1113.7 700.5 1113.7 702.9 1113.7C704.9 1113.7 706.9 1114.7 708.9 1114.7C710.9 1114.7 712.9 1114 714.9 1113.7C716.9 1113.4 719 1113.1 721 1112.7C722.6 1112.4 724.3 1111.7 726 1111.7C728 1111.7 730 1115.7 732 1115.7C734 1115.7 736.1 1110.7 738.1 1110.7C740.4 1110.7 742.8 1113.4 745.1 1113.7C747.5 1114 749.8 1114.3 752.2 1114.3C754.5 1114.3 756.8 1111.3 759.2 1110.7C761.2 1110.2 763.2 1109.7 765.2 1109.7C767.9 1109.7 770.6 1110.7 773.3 1110.7C776 1110.7 778.6 1110 781.3 1109.7C784.7 1109.2 788 1108.5 791.4 1108.3C795.4 1108 799.4 1107.7 803.5 1107.7C806.1 1107.7 808.8 1109 811.5 1109.7C814.2 1110.4 816.9 1111.7 819.6 1111.7C821.6 1111.7 823.6 1107.7 825.6 1107.7C828.9 1107.7 832.3 1108.7 835.7 1108.7C839 1108.7 842.4 1108.7 845.7 1108.7C848.4 1108.7 851.1 1109.5 853.8 1109.7C856.9 1109.9 860 1110.2 863 1110.2C865.4 1110.2 867.7 1107.6 870.1 1107.6C873.1 1107.6 876.1 1109.6 879.1 1110.6C881.8 1111.6 884.5 1112.6 887.2 1113.7C889.2 1114.5 891.2 1116.3 893.2 1116.3C894.6 1116.3 895.9 1114.3 897.2 1114.3C899.9 1114.3 902.6 1114.3 905.3 1114.3C908 1114.3 910.7 1113.7 913.3 1113.7C916 1113.7 918.7 1114.1 921.4 1114.3C924.7 1114.4 928.1 1114.7 931.4 1114.7C933.5 1114.7 935.5 1113.7 937.5 1113.7C939.5 1113.7 941.5 1113.9 943.5 1114.3C945.5 1114.6 947.5 1117.1 949.5 1117.1C952.2 1117.1 954.9 1117.1 957.6 1117.1C959.9 1117.1 962.3 1114.3 964.6 1114.3C967.7 1114.3 970.7 1114.4 973.7 1114.7C977 1114.9 980.4 1116.2 983.7 1116.7C987.1 1117.1 990.5 1117.7 993.8 1117.7C996.5 1117.7 999.2 1114.7 1001.9 1114.7C1005.9 1114.7 1009.9 1115.5 1013.9 1116.3C1016.6 1116.8 1019.3 1118.7 1022 1119.1C1024 1119.4 1026 1119.7 1028 1119.7C1031.4 1119.7 1034.7 1116.3 1038.1 1116.3C1040.7 1116.3 1043.4 1117.1 1046.1 1117.7C1048.1 1118.1 1050.1 1119.1 1052.1 1119.1C1056.2 1119.1 1060.2 1115.7 1064.2 1115.7C1068.2 1115.7 1072.3 1116.5 1076.3 1116.7C1080.6 1116.9 1085 1116.9 1089.4 1117.1"/>
<path stroke="#ff9db3" stroke-width="2.25" d="M270 1058.4C278.7 1058.4 287.5 1058.4 296.2 1058.4C304.9 1058.4 313.6 1058.3 322.3 1058C323.7 1057.9 325 1056.2 326.4 1055.4C328.4 1054 330.4 1051.6 332.4 1051.3C334.4 1051.1 336.4 1051.2 338.4 1050.9C339.8 1050.8 341.1 1049.5 342.5 1049.3C345.1 1049.1 347.8 1049.2 350.5 1048.9C351.8 1048.8 353.2 1042.3 354.5 1042.3C355.9 1042.3 357.2 1043.3 358.6 1043.3C359.9 1043.3 361.2 1038.5 362.6 1034.2C363.9 1029.9 365.3 1014.9 366.6 1012.1C367.6 1010 368.6 1008.1 369.6 1008.1C370.3 1008.1 371 1019.1 371.6 1019.1C373 1019.1 374.3 1011.1 375.7 1011.1C377 1011.1 378.3 1017.6 379.7 1022.2C381 1026.7 382.4 1032.7 383.7 1040.3C384.7 1045.9 385.7 1062.4 386.7 1062.4C387.7 1062.4 388.7 1057.6 389.7 1054.4C390.7 1051.1 391.8 1047.3 392.8 1042.3C393.8 1037.2 394.8 1027.2 395.8 1022.2C396.8 1017.1 397.8 1011.7 398.8 1010.1C400.1 1007.9 401.5 1007.9 402.8 1006.1C404.2 1004.3 405.5 1001.7 406.8 998C407.5 996.2 408.2 993.2 408.9 990C409.5 986.7 410.2 977.9 410.9 977.9C411.9 977.9 412.9 992 413.9 1004.1C414.6 1012.1 415.2 1031.1 415.9 1040.3C416.6 1049.4 417.2 1062.4 417.9 1062.4C418.6 1062.4 419.3 1054.7 419.9 1050.3C420.9 1043.7 421.9 1028.2 422.9 1028.2C424.3 1028.2 425.6 1040.8 427 1044.3C428 1046.9 429 1050.3 430 1050.3C431.3 1050.3 432.7 1015.7 434 1014.1C435 1012.9 436 1013.3 437 1012.1C438 1010.9 439 1000.9 440 996C440.7 992.7 441.4 986.9 442.1 986.9C443.4 986.9 444.7 992.2 446.1 996C447.1 998.8 448.1 1007.1 449.1 1007.1C449.8 1007.1 450.4 1002 451.1 1002C452.5 1002 453.8 1010.7 455.1 1016.1C456.1 1020.2 457.1 1024.5 458.2 1030.2C458.8 1034 459.5 1043.3 460.2 1044.3C461.5 1046.3 462.8 1047.3 464.2 1047.3C465.5 1047.3 466.9 1046.5 468.2 1045.3C469.2 1044.4 470.2 1036.9 471.2 1032.2C471.9 1029.1 472.6 1022.2 473.2 1022.2C474.2 1022.2 475.3 1035 476.3 1040.3C477.3 1045.5 478.3 1053.9 479.3 1054.4C480.6 1055 482 1055.4 483.3 1055.4C484.6 1055.4 486 1048.2 487.3 1046.3C488.7 1044.4 490 1042.3 491.4 1042.3C492.7 1042.3 494 1050.6 495.4 1054.4C496.4 1057.2 497.4 1062.4 498.4 1062.4C499.4 1062.4 500.4 1056.5 501.4 1052.3C502.4 1048.2 503.4 1038.8 504.4 1036.2C505.4 1033.7 506.4 1032.9 507.4 1031.2C508.8 1028.9 510.1 1024.2 511.5 1024.2C512.5 1024.2 513.5 1037.9 514.5 1044.3C515.5 1050.6 516.5 1062.4 517.5 1062.4C518.9 1062.4 520.2 1049.3 521.5 1049.3C522.9 1049.3 524.2 1051.6 525.6 1054.4C526.6 1056.5 527.6 1070.4 528.6 1070.4C529.6 1070.4 530.6 1061.6 531.6 1058.4C532.6 1055.2 533.6 1050.3 534.6 1050.3C536.3 1050.3 538 1069.4 539.6 1069.4C541 1069.4 542.3 1066.2 543.7 1064.4C545 1062.6 546.3 1058.4 547.7 1058.4C549.7 1058.4 551.7 1059.9 553.7 1061.4C555.1 1062.4 556.4 1064.7 557.8 1066.4C559.1 1068.1 560.4 1069.6 561.8 1071.5C562.9 1073 563.9 1076.5 565 1076.5C566 1076.5 567 1067.9 568 1064.4C569.1 1061 570.1 1055.4 571.1 1055.4C572.1 1055.4 573.1 1056.4 574.1 1056.4C575.4 1056.4 576.8 1055.4 578.1 1055.4C579.5 1055.4 580.8 1062 582.1 1064.4C583.5 1066.8 584.8 1070.4 586.2 1070.4C587.5 1070.4 588.8 1064.3 590.2 1063.4C591.9 1062.3 593.5 1062.3 595.2 1061.4C596.6 1060.7 597.9 1059.4 599.2 1058.4C601.2 1056.8 603.3 1053.3 605.3 1053.3C606.6 1053.3 608 1055 609.3 1056.4C610.6 1057.8 612 1063.4 613.3 1063.4C614.7 1063.4 616 1058.4 617.3 1058.4C618.7 1058.4 620 1067.4 621.4 1067.4C622.7 1067.4 624.1 1058.4 625.4 1058.4C626.7 1058.4 628.1 1060.4 629.4 1060.4C630.8 1060.4 632.1 1057.4 633.4 1057.4C634.8 1057.4 636.1 1062.4 637.5 1062.4C638.8 1062.4 640.1 1054.4 641.5 1054.4C642.8 1054.4 644.2 1057.4 645.5 1057.4C646.9 1057.4 648.2 1056.4 649.5 1055.4C650.5 1054.6 651.5 1050.3 652.6 1050.3C653.9 1050.3 655.2 1057.5 656.6 1058.4C659.3 1060.2 661.9 1061.4 664.6 1061.4C666 1061.4 667.3 1054.4 668.7 1054.4C670 1054.4 671.3 1054.4 672.7 1054.4C675.4 1054.4 678 1055.4 680.7 1055.4C682.7 1055.4 684.7 1048.9 686.8 1048.9C689.1 1048.9 691.5 1056.8 693.8 1057.4C696.2 1058 698.5 1058.4 700.8 1058.4C702.9 1058.4 704.9 1051.3 706.9 1051.3C708.2 1051.3 709.6 1051.3 710.9 1051.3C712.9 1051.3 714.9 1057.4 716.9 1057.4C719 1057.4 721 1053.1 723 1052.3C725.7 1051.3 728.3 1050.3 731 1050.3C733 1050.3 735.1 1052.3 737.1 1052.3C739.1 1052.3 741.1 1051.9 743.1 1051.9C744.8 1051.9 746.5 1063.4 748.1 1063.4C749.5 1063.4 750.8 1059.5 752.2 1058.4C753.5 1057.3 754.8 1056 756.2 1056C757.9 1056 759.5 1058.7 761.2 1060.4C763.2 1062.4 765.2 1067.4 767.2 1067.4C769.3 1067.4 771.3 1063.4 773.3 1063.4C775.3 1063.4 777.3 1066.3 779.3 1067.4C780.7 1068.2 782 1069.4 783.3 1069.4C785.4 1069.4 787.4 1061.4 789.4 1061.4C791.1 1061.4 792.7 1063.8 794.4 1065.4C796.1 1067 797.8 1071.5 799.4 1071.5C801.4 1071.5 803.5 1069.8 805.5 1069.4C806.8 1069.2 808.2 1069.2 809.5 1068.8C811.5 1068.3 813.5 1063.4 815.5 1063.4C817.5 1063.4 819.6 1064.4 821.6 1065.4C823.9 1066.6 826.3 1072.5 828.6 1072.5C831 1072.5 833.3 1071.2 835.7 1070.4C838.3 1069.6 841 1067.4 843.7 1067.4C845 1067.4 846.4 1069.4 847.7 1069.4C849.7 1069.4 851.8 1066.4 853.8 1066.4C855.9 1066.4 857.9 1068.2 860 1069.4C861.4 1070.2 862.7 1072.4 864.1 1072.4C865.7 1072.4 867.4 1068.8 869.1 1068.8C871.8 1068.8 874.4 1071.4 877.1 1071.4C878.5 1071.4 879.8 1070 881.2 1070C883.8 1070 886.5 1070.4 889.2 1070.8C891.2 1071.1 893.2 1073.4 895.2 1073.4C896.9 1073.4 898.6 1068.9 900.3 1068.4C903.3 1067.5 906.3 1067 909.3 1067C911.3 1067 913.3 1067.9 915.4 1068.4C917.4 1068.9 919.4 1069.2 921.4 1070C923.4 1070.8 925.4 1074 927.4 1074C929.4 1074 931.4 1071.8 933.5 1071.4C936.1 1070.9 938.8 1070.9 941.5 1070.4C943.5 1070.1 945.5 1069 947.5 1068.8C950.2 1068.6 952.9 1068.4 955.6 1068.4C957.6 1068.4 959.6 1070.5 961.6 1071.4C964 1072.4 966.3 1074 968.7 1074C971 1074 973.4 1072.4 975.7 1072.4C978.4 1072.4 981.1 1072.4 983.7 1072.4C987.1 1072.4 990.5 1069.4 993.8 1069.4C995.8 1069.4 997.8 1071.2 999.8 1072C1002.2 1073 1004.5 1074.8 1006.9 1074.8C1009.2 1074.8 1011.6 1071.3 1013.9 1071C1016.6 1070.6 1019.3 1070.4 1022 1070.4C1024.7 1070.4 1027.3 1071.4 1030 1071.4C1032 1071.4 1034 1070.4 1036.1 1070.4C1039.1 1070.4 1042.1 1073.4 1045.1 1073.4C1047.4 1073.4 1049.8 1070.4 1052.1 1070.4C1055.5 1070.4 1058.8 1070.4 1062.2 1070.4C1066.2 1070.4 1070.2 1069.4 1074.3 1069.4C1079.3 1069.4 1084.3 1069.8 1089.4 1070"/>
<path stroke="#1e1512" stroke-width="2.5" d="M270 1060.4C278.7 1059.7 287.5 1058.8 296.2 1058.4C300.9 1058.1 305.6 1057.8 310.3 1057.8C314.3 1057.8 318.3 1058.2 322.3 1058.8C324.4 1059.1 326.4 1061.4 328.4 1061.4C331.1 1061.4 333.7 1060.7 336.4 1060.4C339.8 1060 343.1 1059.4 346.5 1059.4C348.5 1059.4 350.5 1060.4 352.5 1060.4C353.9 1060.4 355.2 1057 356.5 1056.8C358.2 1056.5 359.9 1056.4 361.6 1056.4C362.9 1056.4 364.3 1061.9 365.6 1063.4C367.3 1065.3 369 1067.4 370.6 1067.4C372.3 1067.4 374 1067.4 375.7 1067.4C377 1067.4 378.3 1070.4 379.7 1070.4C380.7 1070.4 381.7 1062 382.7 1060.4C384 1058.3 385.4 1058.6 386.7 1056.4C387.7 1054.7 388.7 1043.5 389.7 1042.3C390.7 1041.1 391.8 1040.3 392.8 1040.3C393.8 1040.3 394.8 1040.7 395.8 1041.3C396.8 1041.9 397.8 1050.2 398.8 1052.3C400.1 1055.3 401.5 1056.5 402.8 1058.4C403.8 1059.8 404.8 1060.8 405.8 1062.4C406.8 1064 407.9 1068.4 408.9 1068.4C410.2 1068.4 411.5 1067.6 412.9 1066.4C413.9 1065.5 414.9 1062 415.9 1058.4C416.9 1054.8 417.9 1043.7 418.9 1042.3C420.3 1040.5 421.6 1041 422.9 1039.3C423.9 1038 425 1029.8 426 1028.2C427 1026.6 428 1025.2 429 1025.2C430 1025.2 431 1026.2 432 1026.2C432.7 1026.2 433.3 1023.2 434 1023.2C435 1023.2 436 1027.7 437 1030.2C438 1032.7 439 1035.6 440 1038.3C441.1 1040.9 442.1 1045.1 443.1 1046.3C444.4 1047.9 445.7 1047.8 447.1 1049.3C448.1 1050.5 449.1 1054.7 450.1 1056.4C451.1 1058.1 452.1 1060.4 453.1 1060.4C454.5 1060.4 455.8 1058.3 457.1 1056.4C458.5 1054.4 459.8 1050 461.2 1046.3C462.5 1042.6 463.9 1037.2 465.2 1034.2C466.5 1031.3 467.9 1027.2 469.2 1027.2C470.9 1027.2 472.6 1028.2 474.2 1029.2C475.9 1030.2 477.6 1031.9 479.3 1034.2C480.3 1035.6 481.3 1040.3 482.3 1040.3C484 1040.3 485.7 1039.9 487.3 1039.3C488.3 1038.9 489.3 1035.8 490.3 1033.2C491.4 1030.6 492.4 1025.3 493.4 1022.2C494.7 1017.9 496 1011.1 497.4 1011.1C498.4 1011.1 499.4 1011.1 500.4 1011.1C501.7 1011.1 503.1 1016.3 504.4 1017.1C506.1 1018.2 507.8 1018.4 509.5 1019.1C511.5 1020 513.5 1021.1 515.5 1021.8C517.2 1022.3 518.9 1022.3 520.5 1023.2C521.5 1023.7 522.5 1027.2 523.5 1027.2C524.6 1027.2 525.6 1022 526.6 1020.1C527.9 1017.7 529.2 1016.6 530.6 1014.1C531.9 1011.6 533.3 1007.9 534.6 1004.1C535.6 1001.2 536.6 996.9 537.6 994C539 990.1 540.3 984.9 541.7 983.9C543.3 982.7 545 982.6 546.7 981.9C548.4 981.2 550 980.3 551.7 979.9C553.7 979.4 555.7 979.6 557.8 978.9C559.1 978.4 560.4 968.8 561.8 965.8C562.5 964.1 563.3 963.4 564 961.8C565.7 958.2 567.4 950.4 569.1 946.7C570.4 943.8 571.7 939.7 573.1 939.7C574.8 939.7 576.4 940.7 578.1 941.7C579.5 942.5 580.8 945.7 582.1 945.7C583.8 945.7 585.5 944.2 587.2 942.7C589.2 940.9 591.2 933.9 593.2 931.6C595.2 929.3 597.2 927.4 599.2 926.6C600.9 925.9 602.6 925.2 604.3 925.2C605.9 925.2 607.6 926.6 609.3 926.6C610.3 926.6 611.3 921.6 612.3 921.6C613.7 921.6 615 922 616.3 922C617.3 922 618.4 919 619.4 918.5C620.7 918 622 918.1 623.4 917.5C625.4 916.7 627.4 910.5 629.4 908.5C632.1 905.8 634.8 902.4 637.5 902.4C639.8 902.4 642.2 906.5 644.5 907.5C647.2 908.6 649.9 909.9 652.6 909.9C654.6 909.9 656.6 905.5 658.6 905.5C660.6 905.5 662.6 908.2 664.6 909.5C666.3 910.5 668 912.1 669.7 912.5C672 913.1 674.4 913.5 676.7 913.5C679.4 913.5 682.1 913.1 684.7 913.1C687.4 913.1 690.1 914.2 692.8 914.5C695.5 914.8 698.2 915.1 700.8 915.1C703.5 915.1 706.2 912.9 708.9 912.5C710.9 912.2 712.9 911.9 714.9 911.9C717.9 911.9 721 915.4 724 916.5C726.3 917.4 728.7 918.5 731 918.5C733 918.5 735.1 917.9 737.1 917.9C739.7 917.9 742.4 921.2 745.1 921.2C747.8 921.2 750.5 920.5 753.2 920.5C755.8 920.5 758.5 922.3 761.2 923.2C762.5 923.6 763.9 924.6 765.2 924.6C767.2 924.6 769.3 924.6 771.3 924.6C774 924.6 776.6 921.6 779.3 921.6C782 921.6 784.7 922.5 787.4 923.2C790 923.8 792.7 926 795.4 926C798.1 926 800.8 924 803.5 924C806.8 924 810.2 924.5 813.5 925.2C816.2 925.7 818.9 928.7 821.6 929.6C823.6 930.3 825.6 931 827.6 931.2C829.6 931.4 831.6 931.6 833.6 931.6C836.3 931.6 839 930 841.7 930C844.4 930 847.1 930.3 849.7 930.6C854.8 931.1 860 933.6 865.1 933.6C867.7 933.6 870.4 932 873.1 931.6C875.8 931.1 878.5 931 881.2 930.6C883.8 930.1 886.5 928.6 889.2 928.6C891.9 928.6 894.6 929.1 897.2 929.6C899.3 930 901.3 931.3 903.3 932C905.6 932.8 908 934 910.3 934C912.7 934 915 931 917.4 929.6C920 928 922.7 926 925.4 925.2C928.8 924.2 932.1 923.8 935.5 923.1C938.8 922.4 942.2 921.4 945.5 920.9C948.9 920.5 952.2 920.4 955.6 919.9C958.3 919.5 960.9 918.1 963.6 917.5C965.6 917.1 967.7 917 969.7 916.5C972.3 915.9 975 914.1 977.7 913.1C981.1 911.8 984.4 909.8 987.8 909.5C990.5 909.2 993.1 909.1 995.8 909.1C999.8 909.1 1003.9 909.9 1007.9 909.9C1011.2 909.9 1014.6 908.5 1017.9 908.5C1022.6 908.5 1027.3 908.6 1032 908.9C1034.7 909 1037.4 909.5 1040.1 909.9C1042.8 910.3 1045.4 911.5 1048.1 911.5C1050.8 911.5 1053.5 909.6 1056.2 909.1C1058.2 908.6 1060.2 908.1 1062.2 908.1C1065.6 908.1 1068.9 909 1072.3 909.5C1074.9 909.8 1077.6 910.5 1080.3 910.5C1083.3 910.5 1086.3 910.1 1089.4 909.9"/>
</g>
<g clip-path="url(#cpd)" fill="none" stroke-linejoin="round" stroke-linecap="round">
<path stroke="#00c3d6" stroke-width="2.25" d="M1234 1058.4C1265.5 1058.4 1297.1 1058.4 1328.6 1058.4C1331.9 1058.4 1335.3 1058.1 1338.7 1057.8C1341.3 1057.5 1344 1056.4 1346.7 1055.4C1349.4 1054.4 1352.1 1052.7 1354.7 1051.3C1357.4 1050 1360.1 1048.5 1362.8 1047.3C1365.5 1046.2 1368.2 1045.3 1370.8 1044.3C1372.9 1043.5 1374.9 1042.9 1376.9 1041.9C1378.9 1040.8 1380.9 1039 1382.9 1037.2C1384.9 1035.5 1386.9 1033.1 1389 1031.2C1390.6 1029.6 1392.3 1026.9 1394 1026.6C1396.3 1026.1 1398.7 1026.1 1401 1025.8C1402.4 1025.6 1403.7 1025.5 1405.1 1025.2C1406.7 1024.8 1408.4 1023.2 1410.1 1023.2C1411.1 1023.2 1412.1 1024.3 1413.1 1025.2C1414.4 1026.4 1415.8 1029.6 1417.1 1031.2C1418.5 1032.8 1419.8 1033.4 1421.1 1035.2C1422.5 1037 1423.8 1040.3 1425.2 1043.3C1426.5 1046.3 1427.9 1050.4 1429.2 1053.3C1430.5 1056.3 1431.9 1058.9 1433.2 1061.4C1434.6 1063.9 1435.9 1066.1 1437.2 1068.4C1438.6 1070.8 1439.9 1073.3 1441.3 1075.5C1442.6 1077.6 1444 1079.9 1445.3 1081.5C1446.6 1083.1 1448 1085.5 1449.3 1085.5C1450.7 1085.5 1452 1080.6 1453.3 1077.5C1454.7 1074.4 1456 1070.3 1457.4 1066.4C1458.7 1062.6 1460 1058.5 1461.4 1054.4C1462.7 1050.2 1464.1 1044.8 1465.4 1041.3C1467.1 1036.8 1468.8 1032.9 1470.4 1030.2C1471.8 1028.1 1473.1 1025.2 1474.5 1025.2C1475.8 1025.2 1477.1 1026.9 1478.5 1028.2C1479.8 1029.5 1481.2 1031.3 1482.5 1033.2C1483.9 1035.2 1485.2 1038.1 1486.5 1040.3C1487.9 1042.4 1489.2 1045.4 1490.6 1046.3C1492.2 1047.4 1493.9 1047.9 1495.6 1048.3C1497.3 1048.8 1498.9 1048.8 1500.6 1049.3C1502 1049.8 1503.3 1051.3 1504.6 1052.3C1506.3 1053.6 1508 1056.4 1509.7 1056.4C1511 1056.4 1512.4 1054.4 1513.7 1052.3C1515 1050.3 1516.4 1043.5 1517.7 1040.3C1519.1 1037 1520.4 1032.2 1521.8 1032.2C1523.1 1032.2 1524.4 1032.2 1525.8 1032.2C1526.9 1032.2 1527.9 1034.4 1529 1036.2C1530.4 1038.6 1531.7 1045.6 1533 1048.3C1534.4 1051 1535.7 1054.4 1537.1 1054.4C1539.8 1054.4 1542.4 1052.3 1545.1 1052.3C1547.1 1052.3 1549.1 1052.3 1551.2 1052.3C1552.8 1052.3 1554.5 1048 1556.2 1046.3C1557.9 1044.6 1559.5 1041.9 1561.2 1041.9C1562.9 1041.9 1564.6 1044.7 1566.2 1046.3C1567.9 1048 1569.6 1051.9 1571.3 1051.9C1573.3 1051.9 1575.3 1047.8 1577.3 1047.3C1580 1046.7 1582.7 1046.3 1585.4 1046.3C1586.7 1046.3 1588 1047.4 1589.4 1048.3C1591.1 1049.5 1592.7 1053.8 1594.4 1054.4C1596.1 1054.9 1597.8 1055.4 1599.4 1055.4C1601.1 1055.4 1602.8 1050.8 1604.5 1049.3C1606.8 1047.2 1609.2 1044.3 1611.5 1044.3C1613.5 1044.3 1615.5 1045.4 1617.6 1046.3C1618.9 1046.9 1620.2 1048.5 1621.6 1048.7C1623.6 1049.1 1625.6 1049 1627.6 1049.3C1629.6 1049.6 1631.6 1051.9 1633.7 1051.9C1636.3 1051.9 1639 1049.3 1641.7 1049.3C1644.4 1049.3 1647.1 1050 1649.7 1050.3C1653.1 1050.7 1656.5 1051.3 1659.8 1051.3C1661.8 1051.3 1663.8 1046.7 1665.8 1046.7C1667.9 1046.7 1669.9 1047 1671.9 1047.3C1673.9 1047.6 1675.9 1048.7 1677.9 1049.3C1680.6 1050.1 1683.3 1051.3 1686 1051.3C1690 1051.3 1694 1050.2 1698 1049.9C1703.4 1049.6 1708.8 1049.5 1714.1 1049.3C1720.8 1049.1 1727.5 1048.7 1734.3 1048.7C1736.9 1048.7 1739.6 1049.8 1742.3 1050.3C1745.7 1051 1749 1052.3 1752.4 1052.3C1757.1 1052.3 1761.8 1050.3 1766.4 1050.3C1773.2 1050.3 1779.9 1051.9 1786.6 1051.9C1791.9 1051.9 1797.3 1051.3 1802.7 1050.9C1806.7 1050.6 1810.7 1049.9 1814.7 1049.9C1819.8 1049.9 1825 1052.7 1830.1 1052.7C1834.1 1052.7 1838.1 1051.9 1842.1 1051.3C1845.5 1050.8 1848.8 1049.3 1852.2 1049.3C1855.5 1049.3 1858.9 1051.3 1862.2 1051.3C1868.3 1051.3 1874.3 1050.7 1880.4 1050.7C1885 1050.7 1889.7 1051.9 1894.4 1051.9C1899.1 1051.9 1903.8 1050.7 1908.5 1050.7C1913.9 1050.7 1919.2 1051 1924.6 1051.3C1930 1051.5 1935.3 1052.3 1940.7 1052.3C1944.7 1052.3 1948.7 1051.3 1952.8 1051.3C1958.1 1051.3 1963.5 1051.7 1968.9 1051.9C1974.9 1052.1 1980.9 1052.7 1987 1052.7C1993.7 1052.7 2000.4 1052.1 2007.1 1051.9C2015.1 1051.6 2023.2 1051.3 2031.2 1051.3C2038.6 1051.3 2046 1051.7 2053.4 1051.9"/>
<path stroke="#ff9db3" stroke-width="2.25" d="M1234 1058.4C1265.5 1058.4 1297.1 1058.4 1328.6 1058.4C1331.3 1058.4 1334 1057.9 1336.6 1057.4C1339.3 1056.9 1342 1055.9 1344.7 1054.8C1347.4 1053.6 1350.1 1051.2 1352.7 1049.3C1355.4 1047.4 1358.1 1044.6 1360.8 1043.3C1363.5 1041.9 1366.2 1041.3 1368.8 1040.3C1371.5 1039.3 1374.2 1038.6 1376.9 1037.2C1379.6 1035.9 1382.2 1033.7 1384.9 1031.2C1386.9 1029.4 1389 1026.5 1391 1024.2C1393 1021.8 1395 1019.6 1397 1017.1C1399 1014.6 1401 1012.8 1403 1009.1C1404.4 1006.6 1405.7 1001.5 1407.1 998C1408.4 994.5 1409.7 991.3 1411.1 988C1412.4 984.6 1413.8 980.3 1415.1 977.9C1416.8 974.9 1418.5 973.5 1420.1 970.9C1421.5 968.8 1422.8 965.2 1424.2 963.8C1425.5 962.4 1426.8 960.8 1428.2 960.8C1429.5 960.8 1430.9 962.3 1432.2 963.8C1433.6 965.4 1434.9 970.2 1436.2 973.9C1437.6 977.5 1438.9 983.9 1440.3 985.9C1441.6 988 1442.9 989 1444.3 990C1446 991.2 1447.6 992.3 1449.3 993C1450.3 993.4 1451.3 994 1452.3 994C1453.3 994 1454.3 987.7 1455.4 985.9C1456.7 983.6 1458 981.7 1459.4 980.9C1461.1 979.9 1462.7 979.6 1464.4 978.9C1466.4 978 1468.4 975.9 1470.4 975.9C1471.8 975.9 1473.1 980.6 1474.5 982.9C1475.5 984.6 1476.5 986.5 1477.5 988C1478.8 989.9 1480.2 991.5 1481.5 993C1482.9 994.5 1484.2 997 1485.5 997C1487.2 997 1488.9 995 1490.6 995C1492.2 995 1493.9 995.5 1495.6 996C1496.6 996.3 1497.6 998 1498.6 998C1500.3 998 1502 997 1503.6 997C1505.3 997 1507 998 1508.7 998C1510 998 1511.4 995.6 1512.7 995.6C1514 995.6 1515.4 996.3 1516.7 997C1518.1 997.7 1519.4 1000.2 1520.7 1001.6C1522.1 1003.1 1523.4 1004.9 1524.8 1005.7C1527.5 1007.2 1530.3 1007.6 1533 1008.7C1535.4 1009.6 1537.7 1011.7 1540.1 1011.7C1541.8 1011.7 1543.4 1010.3 1545.1 1009.1C1547.1 1007.6 1549.1 1002.1 1551.2 1001C1553.2 1000 1555.2 999 1557.2 999C1559.9 999 1562.6 1000.6 1565.2 1002.4C1566.9 1003.6 1568.6 1007.2 1570.3 1009.1C1571.9 1011 1573.6 1014.1 1575.3 1014.1C1578 1014.1 1580.7 1013.7 1583.4 1013.1C1585.4 1012.7 1587.4 1010.9 1589.4 1010.1C1592.1 1009.1 1594.8 1008.2 1597.4 1007.7C1600.1 1007.1 1602.8 1006.5 1605.5 1006.5C1608.2 1006.5 1610.8 1006.7 1613.5 1006.7C1615.2 1006.7 1616.9 1005.5 1618.6 1005.5C1620.9 1005.5 1623.3 1007.8 1625.6 1008.7C1627.6 1009.5 1629.6 1010.7 1631.6 1010.7C1634.3 1010.7 1637 1009.1 1639.7 1009.1C1641.7 1009.1 1643.7 1010.1 1645.7 1010.5C1647.7 1010.9 1649.7 1011.7 1651.8 1011.7C1654.4 1011.7 1657.1 1010.3 1659.8 1009.5C1662.5 1008.6 1665.2 1006.5 1667.9 1006.5C1671.2 1006.5 1674.6 1006.5 1677.9 1006.7C1680.6 1006.8 1683.3 1007.7 1686 1008.7C1688 1009.4 1690 1012.1 1692 1012.1C1694.7 1012.1 1697.4 1009.5 1700.1 1008.7C1703.4 1007.7 1706.8 1006.5 1710.1 1006.5C1712.8 1006.5 1715.5 1006.5 1718.2 1006.5C1720.5 1006.5 1722.9 1002.4 1725.2 1002.4C1727.5 1002.4 1729.9 1002.7 1732.2 1003C1734.9 1003.4 1737.6 1005.5 1740.3 1006.5C1743 1007.5 1745.7 1009.1 1748.3 1009.1C1751 1009.1 1753.7 1008 1756.4 1007.1C1758.4 1006.4 1760.4 1005 1762.4 1004.1C1764.8 1003 1767.1 1001 1769.5 1001C1772.5 1001 1775.5 1002.6 1778.5 1003C1781.2 1003.5 1783.9 1004.1 1786.6 1004.1C1790.6 1004.1 1794.6 1003 1798.6 1003C1802 1003 1805.3 1004.5 1808.7 1004.5C1811.4 1004.5 1814.1 1003 1816.8 1003C1821.2 1003 1825.6 1005 1830.1 1005C1833.4 1005 1836.8 1003.4 1840.1 1003C1844.1 1002.5 1848.2 1002 1852.2 1002C1855.5 1002 1858.9 1003.2 1862.2 1003.2C1865.6 1003.2 1869 1002 1872.3 1002C1875.7 1002 1879 1005 1882.4 1005C1885 1005 1887.7 1002.6 1890.4 1002C1892.4 1001.5 1894.4 1001 1896.4 1001C1899.1 1001 1901.8 1002.4 1904.5 1003C1907.5 1003.7 1910.5 1005 1913.5 1005C1917.2 1005 1920.9 1003 1924.6 1003C1928.6 1003 1932.7 1003 1936.7 1003C1940.7 1003 1944.7 1003.6 1948.7 1003.6C1952.8 1003.6 1956.8 1003 1960.8 1003C1965.5 1003 1970.2 1004 1974.9 1004C1978.9 1004 1982.9 1003.5 1987 1003.2C1992.3 1002.8 1997.7 1002 2003.1 1002C2007.8 1002 2012.4 1002.8 2017.1 1003.2C2021.8 1003.6 2026.5 1004.6 2031.2 1004.6C2034.6 1004.6 2037.9 1003.6 2041.3 1003.6C2045.3 1003.6 2049.3 1003.9 2053.4 1004"/>
<path stroke="#1e1512" stroke-width="2.5" d="M1234 1058.4C1265.5 1058.4 1297.1 1058.4 1328.6 1058.4C1331.3 1058.4 1334 1059.1 1336.6 1059.4C1339.7 1059.7 1342.7 1059.8 1345.7 1060.4C1347.4 1060.7 1349 1062.4 1350.7 1062.4C1354.1 1062.4 1357.4 1062.4 1360.8 1062.4C1362.8 1062.4 1364.8 1061.1 1366.8 1060.4C1368.8 1059.7 1370.8 1058.4 1372.9 1058.4C1374.9 1058.4 1376.9 1059 1378.9 1059.4C1380.2 1059.7 1381.6 1060.4 1382.9 1060.4C1384.9 1060.4 1386.9 1059.2 1389 1058.4C1391 1057.6 1393 1056.6 1395 1055.4C1397.3 1053.9 1399.7 1049.3 1402 1049.3C1403.7 1049.3 1405.4 1051.3 1407.1 1051.3C1408.7 1051.3 1410.4 1050.4 1412.1 1049.3C1413.4 1048.4 1414.8 1044.3 1416.1 1042.3C1417.1 1040.8 1418.1 1038.3 1419.1 1038.3C1420.8 1038.3 1422.5 1039.9 1424.2 1039.9C1425.5 1039.9 1426.8 1037.8 1428.2 1036.2C1429.9 1034.3 1431.5 1030.7 1433.2 1028.2C1434.9 1025.7 1436.6 1023.6 1438.2 1021.2C1439.6 1019.2 1440.9 1017.7 1442.3 1015.1C1443.3 1013.2 1444.3 1007.1 1445.3 1007.1C1447 1007.1 1448.6 1007.6 1450.3 1008.1C1451.3 1008.3 1452.3 1009.1 1453.3 1009.1C1454.7 1009.1 1456 1009.1 1457.4 1009.1C1458.4 1009.1 1459.4 1016.6 1460.4 1020.1C1461.4 1023.7 1462.4 1028.1 1463.4 1030.2C1464.7 1033 1466.1 1033.9 1467.4 1036.2C1468.4 1038 1469.4 1040.3 1470.4 1042.3C1471.4 1044.3 1472.5 1047.9 1473.5 1048.3C1474.8 1048.9 1476.1 1049.3 1477.5 1049.3C1478.8 1049.3 1480.2 1045.3 1481.5 1045.3C1483.2 1045.3 1484.9 1046.3 1486.5 1046.3C1488.2 1046.3 1489.9 1045.3 1491.6 1045.3C1492.9 1045.3 1494.3 1049.6 1495.6 1050.3C1497.6 1051.4 1499.6 1051.6 1501.6 1052.3C1503.3 1053 1505 1054.4 1506.7 1054.4C1507.7 1054.4 1508.7 1053.3 1509.7 1053.3C1511.4 1053.3 1513 1054.5 1514.7 1055.4C1516 1056.1 1517.4 1056.8 1518.7 1058.4C1519.7 1059.5 1520.7 1063.7 1521.8 1065.4C1522.8 1067.1 1523.8 1069 1524.8 1069.4C1526.2 1070 1527.6 1070.4 1529 1070.4C1530.7 1070.4 1532.4 1066.7 1534.1 1066.4C1535.7 1066.2 1537.4 1066.3 1539.1 1066C1540.8 1065.8 1542.4 1062.2 1544.1 1060.4C1545.8 1058.6 1547.5 1055.4 1549.1 1055.4C1551.2 1055.4 1553.2 1056.8 1555.2 1056.8C1557.2 1056.8 1559.2 1056 1561.2 1056C1563.2 1056 1565.2 1056.7 1567.3 1057.4C1569.3 1058 1571.3 1060.1 1573.3 1060.8C1575.3 1061.5 1577.3 1062.4 1579.3 1062.4C1581.3 1062.4 1583.4 1058.6 1585.4 1058C1588 1057.1 1590.7 1056.4 1593.4 1056.4C1595.4 1056.4 1597.4 1056.4 1599.4 1056.4C1601.5 1056.4 1603.5 1059.4 1605.5 1059.4C1608.2 1059.4 1610.8 1057.1 1613.5 1056C1615.5 1055.1 1617.6 1053.7 1619.6 1053.3C1622.3 1052.8 1624.9 1052.7 1627.6 1052.3C1631 1051.8 1634.3 1050.3 1637.7 1050.3C1639.7 1050.3 1641.7 1050.3 1643.7 1050.3C1646.4 1050.3 1649.1 1053.8 1651.8 1053.9C1655.8 1054.2 1659.8 1054.4 1663.8 1054.4C1665.8 1054.4 1667.9 1052.3 1669.9 1051.3C1671.9 1050.3 1673.9 1048.3 1675.9 1048.3C1677.2 1048.3 1678.6 1048.9 1679.9 1049.3C1681.9 1049.9 1684 1051.1 1686 1051.3C1689.3 1051.7 1692.7 1051.9 1696 1051.9C1701.4 1051.9 1706.8 1051.7 1712.1 1051.3C1714.8 1051.2 1717.5 1050.6 1720.2 1050.3C1724.2 1049.9 1728.2 1049.7 1732.2 1049.3C1735.6 1049 1739 1048.3 1742.3 1048.3C1744.3 1048.3 1746.3 1049 1748.3 1049.3C1751.7 1049.9 1755 1051.3 1758.4 1051.3C1761.8 1051.3 1765.1 1049.9 1768.5 1049.9C1773.2 1049.9 1777.9 1052.3 1782.5 1052.3C1787.2 1052.3 1791.9 1050.7 1796.6 1050.7C1800.7 1050.7 1804.7 1051.8 1808.7 1051.9C1815.8 1052.2 1822.9 1052.3 1830.1 1052.3C1834.1 1052.3 1838.1 1052.1 1842.1 1051.9C1846.2 1051.7 1850.2 1051.3 1854.2 1051.3C1857.6 1051.3 1860.9 1052.3 1864.3 1052.3C1868.3 1052.3 1872.3 1051.7 1876.3 1051.3C1880.4 1050.9 1884.4 1049.9 1888.4 1049.9C1892.4 1049.9 1896.4 1050.6 1900.5 1050.7C1905.2 1050.8 1909.9 1050.9 1914.5 1050.9C1918.6 1050.9 1922.6 1050.9 1926.6 1050.9C1930.6 1050.9 1934.7 1051.9 1938.7 1051.9C1942.7 1051.9 1946.7 1050.3 1950.8 1050.3C1954.1 1050.3 1957.5 1050.6 1960.8 1050.9C1964.2 1051.1 1967.5 1051.9 1970.9 1051.9C1975.6 1051.9 1980.3 1051.9 1985 1051.9C1990.3 1051.9 1995.7 1050.9 2001.1 1050.7C2006.4 1050.5 2011.8 1050.3 2017.1 1050.3C2022.5 1050.3 2027.9 1050.6 2033.2 1050.7C2039.9 1050.8 2046.6 1050.8 2053.4 1050.9"/>
</g>
<g clip-path="url(#cpe)" fill="none" stroke-linejoin="round" stroke-linecap="round">
<path stroke="#00c3d6" stroke-width="2.25" d="M270 1747.4C278.7 1747.9 287.5 1748.3 296.2 1748.8C306.2 1749.3 316.3 1750.4 326.4 1750.4C336.4 1750.4 346.5 1750.2 356.5 1750C366.6 1749.8 376.7 1748.9 386.7 1748.4C400.1 1747.8 413.6 1747 427 1746.8C440.4 1746.6 453.8 1746.4 467.2 1746.4C480.6 1746.4 494 1746.4 507.4 1746.4C520.9 1746.4 534.3 1746.4 547.7 1746.4C558.5 1746.4 569.3 1745.4 580.1 1745.4C586.8 1745.4 593.5 1745.9 600.2 1746.4C605.6 1746.8 611 1747.5 616.3 1748.8C620.4 1749.7 624.4 1752.9 628.4 1754.4C632.4 1756 636.5 1757.4 640.5 1758.4C644.5 1759.5 648.5 1759.9 652.6 1760.9C655.9 1761.6 659.3 1762.5 662.6 1763.5C666 1764.4 669.3 1766.5 672.7 1766.5C676.7 1766.5 680.7 1766.5 684.7 1766.5C688.8 1766.5 692.8 1765.5 696.8 1765.5C699.5 1765.5 702.2 1766 704.9 1766.5C707.6 1766.9 710.2 1768.5 712.9 1768.5C715.6 1768.5 718.3 1768 721 1767.5C723.6 1767.1 726.3 1766.4 729 1765.5C731.7 1764.6 734.4 1761.5 737.1 1761.5C739.7 1761.5 742.4 1762.6 745.1 1762.9C747.8 1763.2 750.5 1763.5 753.2 1763.5C755.8 1763.5 758.5 1762.1 761.2 1762.1C763.9 1762.1 766.6 1762.1 769.3 1762.1C771.3 1762.1 773.3 1762.2 775.3 1762.5C777.3 1762.7 779.3 1764.9 781.3 1766.5C784 1768.6 786.7 1772.5 789.4 1774.5C792.1 1776.6 794.7 1779.6 797.4 1779.6C799.4 1779.6 801.4 1779.1 803.5 1778.6C805.5 1778 807.5 1775.2 809.5 1772.5C811.5 1769.9 813.5 1765.1 815.5 1760.5C817.5 1755.9 819.6 1750.1 821.6 1744.4C822.9 1740.6 824.3 1736.3 825.6 1732.3C826.9 1728.3 828.3 1721.8 829.6 1720.2C831 1718.6 832.3 1717.2 833.6 1717.2C835 1717.2 836.3 1721 837.7 1724.2C839 1727.5 840.3 1735 841.7 1740.3C843 1745.7 844.4 1751.4 845.7 1756.4C847.1 1761.4 848.4 1766.8 849.7 1770.5C851.1 1774.2 852.4 1778.8 853.8 1779.6C854.8 1780.1 855.8 1780.6 856.8 1780.6C857.5 1780.6 858.3 1780.1 859 1779.5C860.7 1778.3 862.4 1769.9 864.1 1764.4C865.7 1758.9 867.4 1751.2 869.1 1746.3C870.8 1741.5 872.4 1736.6 874.1 1734.3C875.8 1731.9 877.5 1729.2 879.1 1729.2C880.5 1729.2 881.8 1731.8 883.2 1734.3C884.5 1736.7 885.8 1744 887.2 1748.3C888.9 1753.8 890.5 1761 892.2 1763.4C893.6 1765.4 894.9 1767.5 896.2 1767.5C897.9 1767.5 899.6 1762.7 901.3 1760.4C903.3 1757.7 905.3 1753.6 907.3 1752.4C908.6 1751.6 910 1750.8 911.3 1750.8C913 1750.8 914.7 1752.8 916.4 1754C918.4 1755.3 920.4 1757.8 922.4 1758.4C925.4 1759.3 928.4 1759.4 931.4 1760C934.8 1760.7 938.1 1762.4 941.5 1762.4C943.5 1762.4 945.5 1761.9 947.5 1761.4C950.2 1760.8 952.9 1758.4 955.6 1758.4C957.3 1758.4 958.9 1761.3 960.6 1762.4C962.6 1763.8 964.6 1766 966.6 1766C968.3 1766 970 1763.3 971.7 1762C973.7 1760.4 975.7 1757.4 977.7 1757.4C979.7 1757.4 981.7 1758 983.7 1758.4C985.8 1758.8 987.8 1760.4 989.8 1760.4C993.1 1760.4 996.5 1756.8 999.8 1756.8C1002.5 1756.8 1005.2 1758.4 1007.9 1759.4C1009.9 1760.2 1011.9 1762 1013.9 1762C1016.6 1762 1019.3 1760.3 1022 1759.4C1024.7 1758.5 1027.3 1756.8 1030 1756.8C1032 1756.8 1034 1758.3 1036.1 1759.4C1038.7 1760.9 1041.4 1765.4 1044.1 1765.4C1046.1 1765.4 1048.1 1763.4 1050.1 1762.4C1052.1 1761.4 1054.2 1759.4 1056.2 1759.4C1058.2 1759.4 1060.2 1760.5 1062.2 1761.4C1064.2 1762.3 1066.2 1764.3 1068.2 1765.4C1070.2 1766.6 1072.3 1768.5 1074.3 1768.5C1076.3 1768.5 1078.3 1767.3 1080.3 1766.4C1083.3 1765.1 1086.3 1762.4 1089.4 1760.4"/>
<path stroke="#ff9db3" stroke-width="2.25" d="M270 1748.4C278.7 1748.7 287.5 1749.4 296.2 1749.4C306.2 1749.4 316.3 1749.4 326.4 1749.4C333.1 1749.4 339.8 1747.8 346.5 1747.4C354.5 1746.9 362.6 1746.5 370.6 1746.4C382.7 1746.2 394.8 1746.1 406.8 1746C416.9 1745.8 427 1745.4 437 1745.4C447.1 1745.4 457.1 1745.4 467.2 1745.4C480.6 1745.4 494 1745.8 507.4 1746C520.9 1746.1 534.3 1746.4 547.7 1746.4C558.5 1746.4 569.3 1745.6 580.1 1745C586.8 1744.6 593.5 1743.9 600.2 1743.4C606.9 1742.9 613.7 1742.3 620.4 1741.9C625.7 1741.7 631.1 1741.3 636.5 1741.3C641.8 1741.3 647.2 1742.7 652.6 1743.4C657.9 1744 663.3 1744.8 668.7 1745.4C672 1745.7 675.4 1745.9 678.7 1746.4C682.1 1746.9 685.4 1748.9 688.8 1750C692.8 1751.3 696.8 1752.2 700.8 1753.4C704.9 1754.7 708.9 1755.7 712.9 1757.4C715.6 1758.6 718.3 1760 721 1762.5C723 1764.3 725 1768.9 727 1772.5C728.3 1775 729.7 1778.6 731 1780.6C733 1783.6 735.1 1785 737.1 1787.6C739.1 1790.3 741.1 1794.3 743.1 1796.7C745.1 1799.1 747.1 1801.4 749.1 1802.7C751.1 1804.1 753.2 1804.9 755.2 1805.7C757.2 1806.5 759.2 1807.7 761.2 1807.7C764.2 1807.7 767.2 1807 770.3 1805.7C771.9 1805 773.6 1800.4 775.3 1796.7C777.3 1792.2 779.3 1784.3 781.3 1778.6C783.3 1772.9 785.4 1765.7 787.4 1762.5C789.4 1759.2 791.4 1756 793.4 1755.4C795.4 1754.8 797.4 1754.4 799.4 1754.4C801.1 1754.4 802.8 1757.1 804.5 1759.5C806.1 1761.8 807.8 1765.9 809.5 1770.5C811.5 1776 813.5 1786.9 815.5 1792.7C817.5 1798.4 819.6 1801.9 821.6 1806.7C822.9 1810 824.3 1816.8 825.6 1816.8C827.6 1816.8 829.6 1816.8 831.6 1816.8C833.6 1816.8 835.7 1813.6 837.7 1810.8C839.7 1807.9 841.7 1801.7 843.7 1796.7C845.7 1791.7 847.7 1784.9 849.7 1780.6C851.4 1777 853.1 1772.2 854.8 1771.5C856.2 1770.9 857.6 1770.5 859 1770.5C860.7 1770.5 862.4 1773.6 864.1 1775.5C866.4 1778.1 868.7 1781.9 871.1 1784.6C873.4 1787.2 875.8 1791.6 878.1 1791.6C880.5 1791.6 882.8 1788.5 885.2 1786.6C887.2 1784.9 889.2 1781.1 891.2 1780.5C893.2 1780 895.2 1779.5 897.2 1779.5C899.9 1779.5 902.6 1782.5 905.3 1782.5C907.3 1782.5 909.3 1781.5 911.3 1781.5C914 1781.5 916.7 1785.4 919.4 1786.6C921.7 1787.6 924.1 1789 926.4 1789C928.8 1789 931.1 1786.2 933.5 1784.6C935.5 1783.1 937.5 1780.1 939.5 1779.5C941.5 1779 943.5 1778.5 945.5 1778.5C947.5 1778.5 949.5 1782.2 951.6 1782.9C953.6 1783.7 955.6 1784.6 957.6 1784.6C960.3 1784.6 963 1784.6 965.6 1784.6C968.3 1784.6 971 1790.2 973.7 1790.2C975.7 1790.2 977.7 1788.8 979.7 1787.6C982.4 1785.9 985.1 1779.1 987.8 1778.5C990.5 1777.9 993.1 1777.5 995.8 1777.5C999.8 1777.5 1003.9 1777.5 1007.9 1777.5C1011.9 1777.5 1015.9 1778.5 1020 1778.5C1023.3 1778.5 1026.7 1778 1030 1777.5C1033.4 1777.1 1036.7 1775.5 1040.1 1775.5C1044.1 1775.5 1048.1 1776.9 1052.1 1776.9C1055.5 1776.9 1058.8 1776.5 1062.2 1776.1C1064.9 1775.8 1067.6 1774.4 1070.2 1774.1C1072.9 1773.8 1075.6 1773.5 1078.3 1773.5C1080.3 1773.5 1082.3 1774.6 1084.3 1775.5C1086 1776.2 1087.7 1777.5 1089.4 1778.5"/>
<path stroke="#1e1512" stroke-width="2.5" d="M270 1740.3C278.7 1740.5 287.5 1740.7 296.2 1740.9C306.2 1741.2 316.3 1741.9 326.4 1741.9C334.4 1741.9 342.5 1741.5 350.5 1741.3C358.6 1741.1 366.6 1740.7 374.7 1740.7C385.4 1740.7 396.1 1742.1 406.8 1742.8C416.9 1743.3 427 1744.1 437 1744.4C447.1 1744.6 457.1 1744.5 467.2 1744.8C473.9 1744.9 480.6 1745.7 487.3 1746C497.4 1746.4 507.4 1746.8 517.5 1746.8C526.2 1746.8 534.9 1746.6 543.7 1746.4C547.7 1746.3 551.7 1745 555.7 1744.8C563.9 1744.3 572 1744.4 580.1 1744C585.5 1743.7 590.9 1742.2 596.2 1741.3C602.3 1740.4 608.3 1739.4 614.3 1738.3C620.4 1737.2 626.4 1735.4 632.4 1734.7C638.5 1734 644.5 1733.9 650.5 1733.3C656.6 1732.7 662.6 1730.7 668.7 1730.7C674.7 1730.7 680.7 1730.7 686.8 1730.7C692.8 1730.7 698.8 1727.2 704.9 1726.9C710.2 1726.5 715.6 1726.3 721 1726.3C724.3 1726.3 727.7 1728.8 731 1729.3C734.4 1729.8 737.7 1729.7 741.1 1730.3C743.8 1730.8 746.5 1733.2 749.1 1735.3C751.1 1736.9 753.2 1738.8 755.2 1741.3C757.2 1743.9 759.2 1748.2 761.2 1751.4C763.2 1754.6 765.2 1758.6 767.2 1760.5C769.3 1762.3 771.3 1764.2 773.3 1764.5C775.3 1764.7 777.3 1764.9 779.3 1764.9C781.3 1764.9 783.3 1760.9 785.4 1758.4C788 1755.1 790.7 1751.4 793.4 1746.4C796.1 1741.3 798.8 1731.9 801.4 1726.3C803.5 1722 805.5 1717.8 807.5 1715.2C809.5 1712.6 811.5 1709.2 813.5 1709.2C815.2 1709.2 816.9 1710 818.6 1711.2C820.2 1712.3 821.9 1717.4 823.6 1722.2C824.9 1726.1 826.3 1733.2 827.6 1738.3C829.3 1744.7 831 1750.9 832.6 1756.4C834.3 1761.9 836 1767.5 837.7 1771.5C839.3 1775.6 841 1780.7 842.7 1781.6C843.7 1782.1 844.7 1782.6 845.7 1782.6C847.4 1782.6 849.1 1779.3 850.7 1776.6C852.4 1773.8 854.1 1767.4 855.8 1763.5C856.9 1760.9 857.9 1757.9 859 1756.4C861 1753.5 863 1750.4 865.1 1750.4C866.7 1750.4 868.4 1752.5 870.1 1754.4C871.8 1756.3 873.4 1760.9 875.1 1764.4C876.8 1767.9 878.5 1772.6 880.1 1775.5C881.8 1778.4 883.5 1782.5 885.2 1782.5C886.9 1782.5 888.5 1780.8 890.2 1779.5C891.9 1778.3 893.6 1775.3 895.2 1774.5C897.2 1773.5 899.3 1772.5 901.3 1772.5C903.3 1772.5 905.3 1774.3 907.3 1775.5C909.3 1776.6 911.3 1778.9 913.3 1779.5C916.7 1780.6 920 1781.5 923.4 1781.5C926.1 1781.5 928.8 1780.4 931.4 1780.1C934.1 1779.8 936.8 1779.8 939.5 1779.5C941.8 1779.3 944.2 1778.5 946.5 1778.5C949.5 1778.5 952.6 1782.5 955.6 1782.5C958.9 1782.5 962.3 1782.5 965.6 1782.5C969.7 1782.5 973.7 1785.6 977.7 1785.6C980.4 1785.6 983.1 1783.2 985.8 1782.5C989.1 1781.8 992.5 1780.9 995.8 1780.9C1000.5 1780.9 1005.2 1781.5 1009.9 1781.5C1013.9 1781.5 1017.9 1779.5 1022 1779.5C1025.3 1779.5 1028.7 1783.5 1032 1783.5C1036.1 1783.5 1040.1 1781.8 1044.1 1781.5C1048.1 1781.2 1052.1 1781.3 1056.2 1780.9C1060.2 1780.6 1064.2 1777.5 1068.2 1777.5C1071.6 1777.5 1074.9 1777.5 1078.3 1777.5C1082 1777.5 1085.7 1778.9 1089.4 1779.5"/>
</g>
<g clip-path="url(#cpf)" fill="none" stroke-linejoin="round" stroke-linecap="round">
<path stroke="#00c3d6" stroke-width="2.25" d="M1234 1747.4C1246.1 1747.4 1258.2 1747.4 1270.2 1747.4C1283.7 1747.4 1297.1 1746.6 1310.5 1746.4C1323.9 1746.2 1337.3 1746 1350.7 1746C1358.8 1746 1366.8 1746.1 1374.9 1746.4C1380.2 1746.5 1385.6 1747.5 1391 1748.4C1395 1749.1 1399 1750.4 1403 1751.4C1407.1 1752.4 1411.1 1753.8 1415.1 1754.4C1417.8 1754.9 1420.5 1755.1 1423.2 1755.4C1425.8 1755.8 1428.5 1756 1431.2 1756.4C1434.6 1756.9 1437.9 1757.6 1441.3 1758.4C1444.6 1759.3 1448 1760.4 1451.3 1761.5C1454 1762.3 1456.7 1763.4 1459.4 1764.1C1461.7 1764.7 1464.1 1765.5 1466.4 1765.5C1468.8 1765.5 1471.1 1763.5 1473.5 1762.9C1475.5 1762.3 1477.5 1762.2 1479.5 1761.5C1481.5 1760.7 1483.5 1758.3 1485.5 1756.4C1487.5 1754.6 1489.6 1751.2 1491.6 1750.4C1493.6 1749.6 1495.6 1749.1 1497.6 1748.8C1499.6 1748.4 1501.6 1748 1503.6 1748C1506.3 1748 1509 1748.4 1511.7 1748.4C1514.4 1748.4 1517.1 1746.1 1519.7 1744.4C1521.8 1743.1 1523.8 1740.9 1525.8 1739.3C1528.2 1737.5 1530.6 1736 1533 1734.3C1535.7 1732.4 1538.4 1729.9 1541.1 1728.3C1543.8 1726.7 1546.5 1725.4 1549.1 1724.2C1551.8 1723.1 1554.5 1721.2 1557.2 1721.2C1559.2 1721.2 1561.2 1722.6 1563.2 1724.2C1564.6 1725.4 1565.9 1729.8 1567.3 1732.3C1568.6 1734.8 1569.9 1738.8 1571.3 1739.3C1573 1740 1574.6 1740.3 1576.3 1740.3C1578 1740.3 1579.7 1736.8 1581.3 1734.3C1583.4 1731.3 1585.4 1726.3 1587.4 1722.2C1589.1 1718.9 1590.7 1714.5 1592.4 1712.2C1593.7 1710.3 1595.1 1707.7 1596.4 1707.7C1598.8 1707.7 1601.1 1709.2 1603.5 1709.2C1605.5 1709.2 1607.5 1707.7 1609.5 1707.7C1611.5 1707.7 1613.5 1709.1 1615.5 1710.6C1617.6 1712 1619.6 1717.1 1621.6 1720.2C1623.6 1723.3 1625.6 1728.2 1627.6 1729.3C1629.6 1730.4 1631.6 1731.3 1633.7 1731.3C1635.7 1731.3 1637.7 1727.7 1639.7 1726.3C1641.7 1724.9 1643.7 1722.6 1645.7 1722.6C1647.7 1722.6 1649.7 1723.2 1651.8 1723.8C1654.1 1724.6 1656.5 1729.3 1658.8 1729.3C1660.5 1729.3 1662.2 1727.6 1663.8 1726.3C1665.8 1724.6 1667.9 1718.2 1669.9 1717.8C1671.9 1717.4 1673.9 1717.2 1675.9 1717.2C1678.6 1717.2 1681.3 1720.6 1684 1720.6C1686 1720.6 1688 1719.8 1690 1719.2C1692.7 1718.4 1695.4 1716.2 1698 1716.2C1699.7 1716.2 1701.4 1717.2 1703.1 1718.2C1704.7 1719.2 1706.4 1722.3 1708.1 1724.2C1710.1 1726.6 1712.1 1731.3 1714.1 1731.3C1717.5 1731.3 1720.8 1731 1724.2 1730.7C1727.5 1730.3 1730.9 1727.3 1734.3 1727.3C1736.9 1727.3 1739.6 1727.3 1742.3 1727.3C1744.3 1727.3 1746.3 1727.9 1748.3 1727.9C1751 1727.9 1753.7 1724.3 1756.4 1723.2C1758.7 1722.3 1761.1 1721.2 1763.4 1721.2C1765.4 1721.2 1767.5 1723.6 1769.5 1725.2C1771.8 1727.1 1774.2 1730.4 1776.5 1732.3C1778.5 1733.9 1780.5 1736.3 1782.5 1736.3C1785.2 1736.3 1787.9 1733.4 1790.6 1731.9C1793.3 1730.4 1796 1728.8 1798.6 1727.3C1801 1725.9 1803.3 1723.2 1805.7 1723.2C1808.7 1723.2 1811.7 1724.4 1814.7 1725.2C1819.2 1726.5 1823.6 1730.2 1828 1730.2C1831.4 1730.2 1834.8 1730.2 1838.1 1730.2C1841.5 1730.2 1844.8 1728.6 1848.2 1727.2C1850.8 1726.1 1853.5 1722.5 1856.2 1722.2C1858.6 1721.9 1860.9 1721.8 1863.3 1721.8C1865.3 1721.8 1867.3 1725.6 1869.3 1727.2C1871.6 1729.1 1874 1732.2 1876.3 1732.2C1879 1732.2 1881.7 1728.4 1884.4 1727.2C1887.1 1726.1 1889.7 1724.8 1892.4 1724.6C1896.4 1724.3 1900.5 1724.4 1904.5 1724.2C1907.8 1724 1911.2 1721.8 1914.5 1721.8C1916.6 1721.8 1918.6 1723.2 1920.6 1723.8C1923.3 1724.6 1925.9 1725.8 1928.6 1725.8C1932.7 1725.8 1936.7 1723.2 1940.7 1723.2C1944.7 1723.2 1948.7 1724.2 1952.8 1724.2C1956.8 1724.2 1960.8 1724.2 1964.8 1724.2C1969.5 1724.2 1974.2 1726.2 1978.9 1726.2C1981.6 1726.2 1984.3 1724.8 1987 1723.8C1989 1723.1 1991 1721.2 1993 1721.2C1995.7 1721.2 1998.4 1721.8 2001.1 1722.2C2005.1 1722.8 2009.1 1723.3 2013.1 1724.2C2017.1 1725.1 2021.2 1727.8 2025.2 1727.8C2029.2 1727.8 2033.2 1726.9 2037.3 1726.2C2039.9 1725.7 2042.6 1724.4 2045.3 1724.2C2048 1724 2050.7 1723.9 2053.4 1723.8"/>
<path stroke="#ff9db3" stroke-width="2.25" d="M1234 1738.7C1242.7 1739.9 1251.5 1741.4 1260.2 1742.4C1270.2 1743.4 1280.3 1744.4 1290.4 1745C1300.4 1745.6 1310.5 1746.4 1320.5 1746.4C1330.6 1746.4 1340.7 1746.4 1350.7 1746.4C1360.1 1746.4 1369.5 1746.3 1378.9 1746C1382.9 1745.9 1386.9 1744.4 1391 1743.4C1395 1742.3 1399 1740.3 1403 1739.3C1406.4 1738.5 1409.7 1737.7 1413.1 1737.3C1415.8 1737 1418.5 1736.7 1421.1 1736.7C1424.5 1736.7 1427.9 1737.9 1431.2 1738.3C1433.9 1738.7 1436.6 1739.3 1439.3 1739.3C1442.6 1739.3 1446 1739.3 1449.3 1739.3C1452 1739.3 1454.7 1738 1457.4 1737.3C1459.4 1736.8 1461.4 1735.7 1463.4 1735.7C1466.8 1735.7 1470.1 1736 1473.5 1736.3C1475.8 1736.6 1478.2 1738.3 1480.5 1738.3C1482.9 1738.3 1485.2 1736.6 1487.5 1735.9C1489.6 1735.3 1491.6 1734.9 1493.6 1734.3C1495.6 1733.7 1497.6 1732.2 1499.6 1731.9C1501.6 1731.6 1503.6 1731.3 1505.7 1731.3C1507.7 1731.3 1509.7 1732.9 1511.7 1734.3C1513.4 1735.4 1515 1737.5 1516.7 1739.3C1518.4 1741.2 1520.1 1744.2 1521.8 1745.4C1525.5 1748.1 1529.3 1750.8 1533 1750.8C1535.7 1750.8 1538.4 1748.6 1541.1 1747.4C1543.8 1746.1 1546.5 1744.5 1549.1 1743.4C1551.8 1742.2 1554.5 1741.9 1557.2 1740.3C1559.2 1739.2 1561.2 1734.3 1563.2 1733.3C1565.2 1732.3 1567.3 1731.8 1569.3 1731.3C1570.9 1730.9 1572.6 1730.3 1574.3 1730.3C1576 1730.3 1577.6 1734.1 1579.3 1736.3C1581 1738.5 1582.7 1741.9 1584.4 1743.4C1586 1744.8 1587.7 1746.4 1589.4 1746.4C1591.1 1746.4 1592.7 1742.3 1594.4 1740.3C1596.4 1738 1598.4 1733.7 1600.5 1733.3C1602.1 1732.9 1603.8 1732.7 1605.5 1732.7C1607.5 1732.7 1609.5 1733.5 1611.5 1734.3C1613.5 1735.2 1615.5 1738.7 1617.6 1740.3C1619.6 1741.9 1621.6 1742.9 1623.6 1744.4C1625.6 1745.9 1627.6 1747.2 1629.6 1749.4C1631.3 1751.2 1633 1755.4 1634.7 1757.4C1636.7 1759.9 1638.7 1763.5 1640.7 1763.5C1644.4 1763.5 1648.1 1761.8 1651.8 1760.5C1654.4 1759.5 1657.1 1756.4 1659.8 1756C1662.5 1755.7 1665.2 1755.4 1667.9 1755.4C1671.2 1755.4 1674.6 1760.1 1677.9 1760.1C1681.3 1760.1 1684.6 1758.4 1688 1758.4C1692 1758.4 1696 1760.9 1700.1 1760.9C1702.1 1760.9 1704.1 1757.8 1706.1 1756.4C1708.1 1755 1710.1 1752.4 1712.1 1752.4C1714.8 1752.4 1717.5 1755.4 1720.2 1755.4C1722.2 1755.4 1724.2 1754.9 1726.2 1754.4C1728.9 1753.8 1731.6 1752.4 1734.3 1751.4C1736.9 1750.4 1739.6 1749.6 1742.3 1748.4C1745.7 1746.9 1749 1742.8 1752.4 1742.8C1755.7 1742.8 1759.1 1746.4 1762.4 1746.4C1765.1 1746.4 1767.8 1745.4 1770.5 1745.4C1773.2 1745.4 1775.8 1746.4 1778.5 1746.4C1781.2 1746.4 1783.9 1741.7 1786.6 1740.3C1789.3 1739 1791.9 1738.6 1794.6 1737.3C1797.3 1736 1800 1731.9 1802.7 1731.9C1806 1731.9 1809.4 1733.9 1812.7 1733.9C1817.8 1733.9 1822.9 1731.7 1828 1731.2C1831.4 1731 1834.8 1731 1838.1 1730.6C1841.5 1730.3 1844.8 1728.6 1848.2 1727.8C1851.5 1727 1854.9 1726.9 1858.2 1725.8C1860.6 1725 1862.9 1720.2 1865.3 1720.2C1869 1720.2 1872.6 1721.2 1876.3 1721.2C1879.7 1721.2 1883 1718.2 1886.4 1718.2C1889.7 1718.2 1893.1 1721.2 1896.4 1721.2C1899.1 1721.2 1901.8 1720.7 1904.5 1720.2C1907.2 1719.7 1909.9 1717.7 1912.5 1717.2C1915.2 1716.7 1917.9 1716.2 1920.6 1716.2C1923.3 1716.2 1925.9 1716.7 1928.6 1717.2C1932 1717.8 1935.3 1720.3 1938.7 1720.6C1942.7 1720.9 1946.7 1720.9 1950.8 1721.2C1954.8 1721.5 1958.8 1723.2 1962.8 1723.2C1966.2 1723.2 1969.5 1721.4 1972.9 1720.2C1975.6 1719.2 1978.3 1716.6 1980.9 1716.6C1982.9 1716.6 1985 1717.1 1987 1717.8C1989 1718.4 1991 1720.9 1993 1722.2C1994.3 1723.1 1995.7 1724.6 1997 1724.6C2001.1 1724.6 2005.1 1723.6 2009.1 1723.2C2013.1 1722.8 2017.1 1722.6 2021.2 1722.2C2024.5 1721.9 2027.9 1721.2 2031.2 1721.2C2034.6 1721.2 2037.9 1721.8 2041.3 1721.8C2045.3 1721.8 2049.3 1721.4 2053.4 1721.2"/>
<path stroke="#1e1512" stroke-width="2.5" d="M1234 1746.4C1246.1 1746.7 1258.2 1747.4 1270.2 1747.4C1283.7 1747.4 1297.1 1746.4 1310.5 1746.4C1323.9 1746.4 1337.3 1746.4 1350.7 1746.4C1358.8 1746.4 1366.8 1746.5 1374.9 1746.8C1380.2 1746.9 1385.6 1747.7 1391 1748C1395 1748.2 1399 1748.4 1403 1748.4C1407.1 1748.4 1411.1 1748.2 1415.1 1748C1419.1 1747.8 1423.2 1746.6 1427.2 1746.4C1431.2 1746.2 1435.2 1746 1439.3 1746C1441.9 1746 1444.6 1746.4 1447.3 1746.8C1450 1747.1 1452.7 1748.1 1455.4 1748.4C1457.4 1748.6 1459.4 1748.8 1461.4 1748.8C1463.4 1748.8 1465.4 1747.3 1467.4 1746.8C1469.4 1746.2 1471.4 1745.8 1473.5 1745.4C1475.5 1744.9 1477.5 1744 1479.5 1744C1482.2 1744 1484.9 1744.4 1487.5 1744.4C1490.2 1744.4 1492.9 1743.4 1495.6 1743.4C1497.6 1743.4 1499.6 1745.6 1501.6 1746.4C1504 1747.2 1506.3 1748.4 1508.7 1748.4C1510.3 1748.4 1512 1747.9 1513.7 1747.4C1515.7 1746.7 1517.7 1744.3 1519.7 1742.4C1521.4 1740.7 1523.1 1737.4 1524.8 1736.3C1526.2 1735.4 1527.6 1735 1529 1734.3C1530.4 1733.7 1531.7 1732.3 1533 1732.3C1535.7 1732.3 1538.4 1732.3 1541.1 1732.3C1543.4 1732.3 1545.8 1731.9 1548.1 1731.3C1549.8 1730.8 1551.5 1727.1 1553.2 1725.2C1555.2 1723 1557.2 1719.2 1559.2 1719.2C1561.2 1719.2 1563.2 1720.1 1565.2 1721.2C1566.6 1722 1567.9 1724.7 1569.3 1727.3C1570.6 1729.9 1571.9 1735.5 1573.3 1738.3C1574.6 1741.2 1576 1744.9 1577.3 1745.4C1579.3 1746 1581.3 1746.4 1583.4 1746.4C1585.4 1746.4 1587.4 1742.4 1589.4 1740.3C1591.4 1738.3 1593.4 1734.3 1595.4 1734.3C1597.4 1734.3 1599.4 1736 1601.5 1737.3C1603.5 1738.7 1605.5 1742 1607.5 1743.4C1609.5 1744.7 1611.5 1746.4 1613.5 1746.4C1615.5 1746.4 1617.6 1745.4 1619.6 1745.4C1621.6 1745.4 1623.6 1748.4 1625.6 1750.4C1627.3 1752.1 1629 1754.8 1630.6 1756.4C1632.3 1758 1634 1760.5 1635.7 1760.5C1637.7 1760.5 1639.7 1757.8 1641.7 1756.4C1645.1 1754.2 1648.4 1749.4 1651.8 1749.4C1654.4 1749.4 1657.1 1754.4 1659.8 1755.4C1662.5 1756.4 1665.2 1757.4 1667.9 1757.4C1670.5 1757.4 1673.2 1753.6 1675.9 1752C1678.6 1750.5 1681.3 1748 1684 1748C1685.6 1748 1687.3 1750.6 1689 1751.4C1690.7 1752.3 1692.3 1753.4 1694 1753.4C1696 1753.4 1698 1748.1 1700.1 1747.4C1702.1 1746.6 1704.1 1746 1706.1 1746C1708.1 1746 1710.1 1748.7 1712.1 1750.4C1714.1 1752.1 1716.1 1755.2 1718.2 1756C1719.8 1756.7 1721.5 1757.4 1723.2 1757.4C1726.9 1757.4 1730.6 1753.4 1734.3 1753.4C1737.6 1753.4 1741 1755 1744.3 1756.4C1746.3 1757.3 1748.3 1759.3 1750.4 1760.5C1752.7 1761.8 1755 1764.1 1757.4 1764.1C1760.4 1764.1 1763.4 1760.4 1766.4 1760.1C1769.1 1759.7 1771.8 1759.5 1774.5 1759.5C1776.5 1759.5 1778.5 1760 1780.5 1760.5C1783.2 1761.1 1785.9 1764.6 1788.6 1764.9C1791.9 1765.3 1795.3 1765.2 1798.6 1765.5C1801.7 1765.8 1804.7 1767.5 1807.7 1767.5C1810 1767.5 1812.4 1764.9 1814.7 1764.9C1819.2 1764.9 1823.6 1765.7 1828 1766.4C1832.1 1767.1 1836.1 1770.1 1840.1 1770.1C1842.8 1770.1 1845.5 1769.8 1848.2 1769.5C1850.8 1769.2 1853.5 1767.9 1856.2 1767.5C1858.6 1767 1860.9 1766.4 1863.3 1766.4C1865.6 1766.4 1867.9 1769.4 1870.3 1770.5C1873 1771.7 1875.7 1773.5 1878.3 1773.5C1881.7 1773.5 1885 1772.9 1888.4 1772.9C1891.1 1772.9 1893.8 1773.6 1896.4 1774.1C1899.8 1774.7 1903.1 1776.5 1906.5 1776.5C1910.5 1776.5 1914.5 1774.1 1918.6 1774.1C1922.6 1774.1 1926.6 1776.9 1930.6 1776.9C1933.3 1776.9 1936 1776.9 1938.7 1776.9C1942 1776.9 1945.4 1774.9 1948.7 1774.9C1950.8 1774.9 1952.8 1776.5 1954.8 1777.5C1956.8 1778.5 1958.8 1780.9 1960.8 1780.9C1962.8 1780.9 1964.8 1778.7 1966.9 1777.5C1968.9 1776.4 1970.9 1774.1 1972.9 1774.1C1974.9 1774.1 1976.9 1775.7 1978.9 1776.5C1981.6 1777.6 1984.3 1780.1 1987 1780.1C1989 1780.1 1991 1779.6 1993 1779.1C1995.7 1778.5 1998.4 1775.5 2001.1 1775.5C2005.1 1775.5 2009.1 1776.7 2013.1 1776.9C2018.5 1777.2 2023.8 1777.5 2029.2 1777.5C2033.2 1777.5 2037.3 1776.1 2041.3 1776.1C2045.3 1776.1 2049.3 1776.6 2053.4 1776.9"/>
</g>
<g clip-path="url(#cpg)" fill="none" stroke-linejoin="round" stroke-linecap="round">
<path stroke="#00c3d6" stroke-width="2.25" d="M270 2434.4C331.1 2434.4 392.1 2434.4 453.1 2434.4C461.2 2434.4 469.2 2431.5 477.3 2429.9C486 2428.2 494.7 2426.1 503.4 2424.3C510.1 2422.9 516.8 2421.9 523.5 2420.3C527.6 2419.3 531.6 2416.7 535.6 2416.7C539.6 2416.7 543.7 2416.7 547.7 2416.7C549.7 2416.7 551.7 2418.2 553.7 2419.3C555.7 2420.3 557.8 2422.1 559.8 2423.3C562.5 2425 565.3 2427.1 568 2427.9C571.4 2428.9 574.8 2429.8 578.1 2429.9C582.1 2430.2 586.2 2430.1 590.2 2430.4C593.5 2430.6 596.9 2433.8 600.2 2436.4C602.9 2438.4 605.6 2441.8 608.3 2444.4C611 2447.1 613.7 2450.4 616.3 2452.5C619 2454.5 621.7 2455.6 624.4 2457.5C627.1 2459.5 629.8 2464.6 632.4 2464.6C634.4 2464.6 636.5 2461.3 638.5 2458.5C640.5 2455.7 642.5 2449.3 644.5 2444.4C646.5 2439.6 648.5 2434 650.5 2429.3C652.6 2424.7 654.6 2419 656.6 2416.3C658.6 2413.5 660.6 2410.2 662.6 2410.2C664.3 2410.2 666 2410.7 667.6 2411.2C669.3 2411.8 671 2414.2 672.7 2416.3C674.7 2418.8 676.7 2423 678.7 2426.3C680.7 2429.7 682.7 2436.4 684.7 2436.4C686.8 2436.4 688.8 2434.9 690.8 2434.4C693.5 2433.7 696.2 2433.3 698.8 2432.8C701.5 2432.3 704.2 2431.7 706.9 2431.4C709.6 2431 712.2 2430.4 714.9 2430.4C716.9 2430.4 719 2432.4 721 2433.4C722.3 2434 723.6 2435.4 725 2435.4C727 2435.4 729 2430.7 731 2429.3C733 2428 735.1 2426.3 737.1 2426.3C739.7 2426.3 742.4 2428.1 745.1 2429.3C747.8 2430.6 750.5 2433.4 753.2 2434.4C755.2 2435.1 757.2 2436 759.2 2436C761.2 2436 763.2 2432.1 765.2 2431.4C767.2 2430.6 769.3 2429.9 771.3 2429.9C774 2429.9 776.6 2432.4 779.3 2432.4C782 2432.4 784.7 2431.7 787.4 2431.4C790 2431 792.7 2430.4 795.4 2430.4C798.8 2430.4 802.1 2432.6 805.5 2433.4C809.5 2434.2 813.5 2435.4 817.5 2435.4C821.6 2435.4 825.6 2435.4 829.6 2435.4C833.6 2435.4 837.7 2433.4 841.7 2433.4C852.8 2433.4 864 2434.3 875.1 2434.3C879.5 2434.3 883.8 2432.3 888.2 2432.3C893.2 2432.3 898.3 2434.7 903.3 2434.7C910.7 2434.7 918 2434.3 925.4 2434.3C930.1 2434.3 934.8 2434.3 939.5 2434.3C944.2 2434.3 948.9 2436.3 953.6 2436.3C958.3 2436.3 963 2434.7 967.7 2434.7C973 2434.7 978.4 2434.7 983.7 2434.7C988.4 2434.7 993.1 2436.3 997.8 2436.3C1001.2 2436.3 1004.5 2435.3 1007.9 2435.3C1011.9 2435.3 1015.9 2436.1 1020 2436.3C1026.7 2436.8 1033.4 2437.3 1040.1 2437.3C1044.1 2437.3 1048.1 2436.3 1052.1 2436.3C1057.5 2436.3 1062.9 2436.5 1068.2 2436.7C1071.6 2436.9 1074.9 2438.8 1078.3 2438.8C1082 2438.8 1085.7 2437.8 1089.4 2437.3"/>
<path stroke="#ff9db3" stroke-width="2.25" d="M270 2434.4C331.1 2434.4 392.1 2434.4 453.1 2434.4C461.2 2434.4 469.2 2432.3 477.3 2431.4C486 2430.4 494.7 2429.5 503.4 2428.7C510.1 2428.2 516.8 2427.7 523.5 2427.3C528.2 2427.1 532.9 2426.7 537.6 2426.7C541.7 2426.7 545.7 2427.9 549.7 2429.3C551.7 2430.1 553.7 2432.7 555.7 2434.4C557.8 2436.1 559.8 2438.2 561.8 2439.4C563.2 2440.2 564.6 2440.8 566 2441.4C568 2442.3 570.1 2444 572.1 2444C574.1 2444 576.1 2443.1 578.1 2442.4C580.1 2441.7 582.1 2440.9 584.1 2439.4C586.2 2437.9 588.2 2434.2 590.2 2431.4C592.2 2428.5 594.2 2425.1 596.2 2422.3C598.2 2419.5 600.2 2416.8 602.3 2414.3C604.3 2411.8 606.3 2409.9 608.3 2407.2C609.6 2405.4 611 2402.4 612.3 2401.2C614.3 2399.3 616.3 2398.1 618.4 2397.2C621 2395.8 623.7 2395.3 626.4 2394.1C628.4 2393.3 630.4 2391.1 632.4 2391.1C633.8 2391.1 635.1 2393.3 636.5 2395.1C638.5 2397.9 640.5 2404.7 642.5 2410.2C644.5 2415.7 646.5 2422.7 648.5 2428.3C650.5 2434 652.6 2440.9 654.6 2444.4C656.6 2448 658.6 2452.5 660.6 2452.5C662.6 2452.5 664.6 2451.7 666.6 2450.5C668 2449.7 669.3 2446.7 670.7 2443.4C672.3 2439.4 674 2429.3 675.7 2422.3C677.4 2415.3 679 2406 680.7 2401.2C682.4 2396.3 684.1 2390.1 685.8 2390.1C687.1 2390.1 688.4 2390.5 689.8 2391.1C691.5 2391.9 693.1 2400.7 694.8 2406.2C696.5 2411.7 698.2 2418.3 699.8 2424.3C701.5 2430.4 703.2 2438.5 704.9 2442.4C706.2 2445.5 707.6 2449.5 708.9 2449.5C710.2 2449.5 711.6 2447.6 712.9 2445.4C714.3 2443.3 715.6 2434.6 716.9 2430.4C718.3 2426.1 719.6 2421.6 721 2419.3C722.3 2417 723.6 2414.3 725 2414.3C726.3 2414.3 727.7 2417.1 729 2419.3C730.4 2421.4 731.7 2426.2 733 2428.3C734.4 2430.5 735.7 2433.4 737.1 2433.4C739.7 2433.4 742.4 2432.1 745.1 2431.4C747.8 2430.6 750.5 2428.7 753.2 2428.7C755.2 2428.7 757.2 2430.8 759.2 2432.4C760.5 2433.4 761.9 2436.4 763.2 2436.4C765.2 2436.4 767.2 2435.5 769.3 2434.4C770.6 2433.6 771.9 2429.7 773.3 2429.3C776 2428.7 778.6 2428.3 781.3 2428.3C784 2428.3 786.7 2431.5 789.4 2432.4C792.1 2433.3 794.7 2434.4 797.4 2434.4C800.1 2434.4 802.8 2429.7 805.5 2428.7C807.5 2428.1 809.5 2427.3 811.5 2427.3C814.2 2427.3 816.9 2429.3 819.6 2430.4C822.2 2431.4 824.9 2433.4 827.6 2433.4C830.3 2433.4 833 2431.4 835.7 2431.4C839 2431.4 842.4 2432 845.7 2432C862.2 2432 878.7 2428.4 895.2 2427.9C905.3 2427.6 915.4 2427.3 925.4 2427.3C942.2 2427.3 958.9 2427.9 975.7 2427.9C995.8 2427.9 1015.9 2427.9 1036.1 2427.9C1042.8 2427.9 1049.5 2428.1 1056.2 2428.3C1067.2 2428.6 1078.3 2429.4 1089.4 2429.9"/>
<path stroke="#1e1512" stroke-width="2.5" d="M270 2434.4C331.1 2434.4 392.1 2434.4 453.1 2434.4C461.2 2434.4 469.2 2435.8 477.3 2436.4C484.6 2437 492 2438 499.4 2438C507.4 2438 515.5 2437.8 523.5 2437.4C527.6 2437.2 531.6 2436.3 535.6 2435.4C539.6 2434.5 543.7 2433.3 547.7 2431.4C550.4 2430.1 553.1 2426.5 555.7 2425.3C557.8 2424.4 559.8 2423.6 561.8 2423.3C563.9 2423 566 2423 568 2422.7C570.7 2422.4 573.4 2421.3 576.1 2421.3C581.5 2421.3 586.8 2421.3 592.2 2421.3C597.6 2421.3 602.9 2422.3 608.3 2423.3C610.3 2423.7 612.3 2424.3 614.3 2425.3C616.3 2426.3 618.4 2430.2 620.4 2431.4C623 2432.9 625.7 2433.7 628.4 2434.4C631.8 2435.3 635.1 2436.4 638.5 2436.4C640.5 2436.4 642.5 2434.4 644.5 2434.4C647.2 2434.4 649.9 2435.4 652.6 2435.4C655.2 2435.4 657.9 2430 660.6 2428.3C662.6 2427.1 664.6 2426.6 666.6 2425.3C669.3 2423.6 672 2417.9 674.7 2417.9C676.7 2417.9 678.7 2420.3 680.7 2422.3C682.7 2424.4 684.7 2428.5 686.8 2432.4C688.8 2436.3 690.8 2442.3 692.8 2446.4C694.8 2450.6 696.8 2457.5 698.8 2457.5C700.2 2457.5 701.5 2457.1 702.9 2456.5C704.9 2455.6 706.9 2445.7 708.9 2442.4C710.6 2439.7 712.2 2436 713.9 2436C716.3 2436 718.6 2437.6 721 2438.4C723.6 2439.3 726.3 2440.8 729 2440.8C731.7 2440.8 734.4 2436.4 737.1 2436.4C739.1 2436.4 741.1 2436.6 743.1 2436.8C745.8 2437.1 748.5 2439.4 751.1 2439.4C754.5 2439.4 757.9 2439.1 761.2 2438.8C763.9 2438.6 766.6 2438 769.3 2438C771.9 2438 774.6 2438 777.3 2438C778.6 2438 780 2435.4 781.3 2434.4C783.3 2432.8 785.4 2430.4 787.4 2430.4C790 2430.4 792.7 2432.4 795.4 2432.4C798.8 2432.4 802.1 2432 805.5 2432C808.8 2432 812.2 2433.4 815.5 2433.4C817.5 2433.4 819.6 2432 821.6 2431.4C824.3 2430.5 826.9 2428.9 829.6 2428.7C833.6 2428.5 837.7 2428.3 841.7 2428.3C845 2428.3 848.4 2429.9 851.8 2429.9C859.5 2429.9 867.3 2428.3 875.1 2428.3C881.8 2428.3 888.5 2428.7 895.2 2428.7C901.9 2428.7 908.6 2427.9 915.4 2427.9C922.1 2427.9 928.8 2429.3 935.5 2429.3C942.2 2429.3 948.9 2428.1 955.6 2427.9C965 2427.6 974.4 2427.3 983.7 2427.3C994.5 2427.3 1005.2 2427.9 1015.9 2427.9C1021.3 2427.9 1026.7 2427.3 1032 2427.3C1037.4 2427.3 1042.8 2428.7 1048.1 2428.7C1054.8 2428.7 1061.5 2427.5 1068.2 2427.5C1075.3 2427.5 1082.3 2427.5 1089.4 2427.5"/>
</g>
<g clip-path="url(#cph)" fill="none" stroke-linejoin="round" stroke-linecap="round">
<path stroke="#00c3d6" stroke-width="2.25" d="M1234 2434.8C1325.2 2434.8 1416.5 2434.8 1507.7 2434.8C1511.7 2434.8 1515.7 2434.5 1519.7 2434.4C1528.2 2434 1536.7 2433.5 1545.1 2432.8C1548.5 2432.5 1551.8 2431.6 1555.2 2431.4C1561.9 2430.8 1568.6 2430.9 1575.3 2430.4C1578.7 2430.1 1582 2428.7 1585.4 2428.7C1592.1 2428.7 1598.8 2429.9 1605.5 2429.9C1609.5 2429.9 1613.5 2429.9 1617.6 2429.9C1621.6 2429.9 1625.6 2431 1629.6 2431.4C1632.3 2431.6 1635 2432 1637.7 2432C1641.7 2432 1645.7 2430.8 1649.7 2430.8C1655.1 2430.8 1660.5 2432 1665.8 2432C1670.5 2432 1675.2 2432 1679.9 2432C1684.6 2432 1689.3 2433.9 1694 2434.4C1698 2434.8 1702.1 2435.1 1706.1 2435.4C1709.4 2435.6 1712.8 2435.7 1716.1 2436C1719.5 2436.3 1722.9 2437.7 1726.2 2438.8C1730.2 2440.1 1734.3 2441.9 1738.3 2443.4C1741.6 2444.7 1745 2446.9 1748.3 2447.5C1751.7 2448 1755 2448.5 1758.4 2448.5C1763.1 2448.5 1767.8 2445.2 1772.5 2444.4C1777.2 2443.7 1781.9 2443.8 1786.6 2442.8C1789.3 2442.3 1791.9 2439.1 1794.6 2437.4C1797.3 2435.7 1800 2432.4 1802.7 2432.4C1804.7 2432.4 1806.7 2432.4 1808.7 2432.4C1810.7 2432.4 1812.7 2435.4 1814.7 2435.4C1819.2 2435.4 1823.6 2435 1828 2434.3C1830.1 2434 1832.1 2432.4 1834.1 2431.3C1836.8 2429.8 1839.4 2426.3 1842.1 2426.3C1844.8 2426.3 1847.5 2428 1850.2 2429.3C1852.9 2430.6 1855.5 2434 1858.2 2434.3C1860.2 2434.6 1862.2 2434.7 1864.3 2434.7C1866.9 2434.7 1869.6 2430.6 1872.3 2430.3C1874.3 2430.1 1876.3 2429.9 1878.3 2429.9C1881 2429.9 1883.7 2432.9 1886.4 2434.3C1889.7 2436.1 1893.1 2437.7 1896.4 2439.4C1899.1 2440.7 1901.8 2441.9 1904.5 2443.4C1907.2 2444.9 1909.9 2448.4 1912.5 2448.4C1915.2 2448.4 1917.9 2445.6 1920.6 2443.4C1922.6 2441.7 1924.6 2437.4 1926.6 2436.3C1928.6 2435.3 1930.6 2434.3 1932.7 2434.3C1934.7 2434.3 1936.7 2438.4 1938.7 2440.4C1941 2442.7 1943.4 2446.8 1945.7 2447.4C1948.1 2448 1950.4 2448.4 1952.8 2448.4C1955.5 2448.4 1958.1 2444.5 1960.8 2442.4C1964.2 2439.8 1967.5 2435.8 1970.9 2434.3C1973.6 2433.2 1976.2 2431.9 1978.9 2431.9C1980.9 2431.9 1982.9 2434.6 1985 2436.3C1987 2438 1989 2441.9 1991 2442.4C1993.7 2443 1996.4 2443.4 1999 2443.4C2002.4 2443.4 2005.7 2440.4 2009.1 2440.4C2012.4 2440.4 2015.8 2442.4 2019.2 2442.4C2021.8 2442.4 2024.5 2436.3 2027.2 2436.3C2029.2 2436.3 2031.2 2438.2 2033.2 2439.4C2035.9 2441 2038.6 2445.4 2041.3 2445.4C2043.3 2445.4 2045.3 2443.4 2047.3 2442.4C2049.3 2441.4 2051.3 2440.4 2053.4 2439.4"/>
<path stroke="#ff9db3" stroke-width="2.25" d="M1234 2435.4C1325.2 2435 1416.5 2435.3 1507.7 2434.4C1511 2434.3 1514.4 2433.3 1517.7 2432.4C1519.7 2431.8 1521.8 2430.6 1523.8 2429.9C1527.5 2428.8 1531.3 2428.3 1535.1 2427.3C1538.4 2426.5 1541.8 2425.6 1545.1 2424.3C1549.1 2422.8 1553.2 2418.6 1557.2 2417.9C1561.9 2417 1566.6 2417.1 1571.3 2416.3C1576 2415.4 1580.7 2410.6 1585.4 2410.6C1588.7 2410.6 1592.1 2412.2 1595.4 2412.2C1598.8 2412.2 1602.1 2411.2 1605.5 2411.2C1608.2 2411.2 1610.8 2411.7 1613.5 2412.2C1616.2 2412.8 1618.9 2415.6 1621.6 2417.3C1624.9 2419.3 1628.3 2421.7 1631.6 2423.3C1635 2424.9 1638.3 2426.3 1641.7 2427.3C1644.4 2428.2 1647.1 2429.3 1649.7 2429.3C1653.8 2429.3 1657.8 2428.8 1661.8 2428.3C1665.8 2427.9 1669.9 2425.9 1673.9 2425.9C1677.9 2425.9 1681.9 2426.3 1686 2426.7C1690 2427.1 1694 2428.7 1698 2428.7C1702.1 2428.7 1706.1 2428.5 1710.1 2428.3C1714.1 2428.2 1718.2 2428.2 1722.2 2427.9C1725.5 2427.7 1728.9 2425.7 1732.2 2425.3C1736.9 2424.8 1741.6 2424.8 1746.3 2424.3C1750.4 2423.9 1754.4 2422.3 1758.4 2422.3C1761.8 2422.3 1765.1 2424.1 1768.5 2424.7C1772.5 2425.4 1776.5 2426.3 1780.5 2426.3C1783.2 2426.3 1785.9 2425.9 1788.6 2425.3C1791.3 2424.8 1793.9 2422.4 1796.6 2420.3C1799.3 2418.2 1802 2413.1 1804.7 2412.2C1807.4 2411.3 1810 2410.6 1812.7 2410.6C1815.1 2410.6 1817.4 2412.1 1819.8 2413.2C1823.2 2414.9 1826.6 2418.9 1830.1 2421.3C1833.4 2423.5 1836.8 2425.5 1840.1 2427.3C1843.5 2429.1 1846.8 2430.5 1850.2 2432.3C1853.5 2434.1 1856.9 2436.7 1860.2 2438.4C1863.6 2440 1866.9 2441.6 1870.3 2442.4C1873.6 2443.1 1877 2443.4 1880.4 2444C1883.7 2444.6 1887.1 2445.4 1890.4 2446C1893.8 2446.6 1897.1 2446.9 1900.5 2447.4C1903.8 2448 1907.2 2449.4 1910.5 2449.4C1913.2 2449.4 1915.9 2446.6 1918.6 2445.4C1921.3 2444.2 1923.9 2442 1926.6 2442C1930 2442 1933.3 2443.4 1936.7 2444.4C1939.4 2445.2 1942 2447.4 1944.7 2447.4C1947.4 2447.4 1950.1 2447.4 1952.8 2447.4C1956.1 2447.4 1959.5 2445.6 1962.8 2444.4C1966.9 2442.9 1970.9 2438.4 1974.9 2438.4C1976.9 2438.4 1978.9 2440.2 1980.9 2441.4C1982.9 2442.6 1985 2446 1987 2446C1989.7 2446 1992.3 2444.6 1995 2443.4C1997.4 2442.4 1999.7 2438.8 2002.1 2438.8C2005.1 2438.8 2008.1 2440.4 2011.1 2440.4C2014.5 2440.4 2017.8 2440.4 2021.2 2440.4C2024.5 2440.4 2027.9 2443.4 2031.2 2443.4C2034.6 2443.4 2037.9 2440.6 2041.3 2439.4C2043.3 2438.6 2045.3 2437.3 2047.3 2437.3C2049.3 2437.3 2051.3 2438 2053.4 2438.4"/>
<path stroke="#1e1512" stroke-width="2.5" d="M1234 2434.8C1325.2 2434.8 1416.5 2434.8 1507.7 2434.8C1511.7 2434.8 1515.7 2435.9 1519.7 2436.4C1524.8 2437 1530 2437.5 1535.1 2438C1538.4 2438.3 1541.8 2438.5 1545.1 2438.8C1549.1 2439.2 1553.2 2440.4 1557.2 2440.4C1561.2 2440.4 1565.2 2438.8 1569.3 2438.8C1574.6 2438.8 1580 2439.4 1585.4 2439.4C1588.7 2439.4 1592.1 2437.4 1595.4 2436.4C1600.1 2435 1604.8 2433.5 1609.5 2432.4C1612.2 2431.7 1614.9 2431.5 1617.6 2430.8C1620.9 2429.8 1624.3 2427.1 1627.6 2425.9C1631 2424.8 1634.3 2423.7 1637.7 2423.3C1641.7 2422.8 1645.7 2422.6 1649.7 2422.3C1653.8 2422 1657.8 2421.3 1661.8 2421.3C1666.5 2421.3 1671.2 2422.7 1675.9 2422.7C1680.6 2422.7 1685.3 2421.9 1690 2421.9C1694.7 2421.9 1699.4 2423.3 1704.1 2423.3C1708.8 2423.3 1713.5 2421.6 1718.2 2421.3C1722.9 2421 1727.5 2421 1732.2 2420.7C1736.9 2420.4 1741.6 2419.7 1746.3 2419.3C1751.7 2418.8 1757.1 2418.4 1762.4 2417.9C1768.5 2417.3 1774.5 2417.3 1780.5 2416.3C1782.5 2415.9 1784.6 2414.1 1786.6 2413.2C1788.6 2412.4 1790.6 2411.2 1792.6 2411.2C1794.6 2411.2 1796.6 2411.7 1798.6 2412.2C1800.7 2412.8 1802.7 2414.4 1804.7 2416.3C1806.7 2418.1 1808.7 2422 1810.7 2425.3C1812.7 2428.6 1814.7 2433.2 1816.8 2436.4C1818.4 2439 1820.1 2442.3 1821.8 2443.4C1823.2 2444.4 1824.6 2444.9 1826 2445.4C1829.4 2446.6 1832.7 2447 1836.1 2448.4C1838.8 2449.5 1841.5 2451.8 1844.1 2453.4C1847.5 2455.5 1850.8 2459.5 1854.2 2459.5C1856.2 2459.5 1858.2 2458.4 1860.2 2457.5C1862.9 2456.2 1865.6 2451.2 1868.3 2449.4C1871 2447.6 1873.6 2445.9 1876.3 2445.4C1879.7 2444.8 1883 2444.9 1886.4 2444.4C1889.1 2444 1891.7 2443.4 1894.4 2442.4C1897.1 2441.3 1899.8 2437.2 1902.5 2434.3C1904.5 2432.2 1906.5 2429.3 1908.5 2427.3C1910.5 2425.2 1912.5 2421.9 1914.5 2421.9C1916.6 2421.9 1918.6 2422.7 1920.6 2423.3C1922.6 2423.9 1924.6 2425.9 1926.6 2425.9C1929.3 2425.9 1932 2424.8 1934.7 2423.9C1937.3 2422.9 1940 2420.7 1942.7 2419.2C1944.7 2418.2 1946.7 2416.2 1948.7 2416.2C1950.8 2416.2 1952.8 2416.2 1954.8 2416.2C1956.8 2416.2 1958.8 2417.7 1960.8 2418.2C1963.5 2419 1966.2 2420.2 1968.9 2420.2C1971.5 2420.2 1974.2 2420.1 1976.9 2419.8C1978.9 2419.7 1980.9 2417.6 1982.9 2416.2C1985 2414.9 1987 2411.8 1989 2411.8C1991 2411.8 1993 2413.3 1995 2414.2C1997.7 2415.4 2000.4 2418.6 2003.1 2418.6C2005.1 2418.6 2007.1 2416.9 2009.1 2415.8C2011.1 2414.8 2013.1 2412.2 2015.1 2412.2C2017.1 2412.2 2019.2 2413.5 2021.2 2414.2C2023.2 2414.9 2025.2 2416.2 2027.2 2416.2C2029.9 2416.2 2032.6 2414.2 2035.2 2414.2C2037.3 2414.2 2039.3 2415.1 2041.3 2415.8C2043.3 2416.6 2045.3 2419.2 2047.3 2419.2C2049.3 2419.2 2051.3 2419.2 2053.4 2419.2"/>
</g>
<path d="M266 140.6V115.1M266 599.7V625.2M348.7 140.6V127.4M348.7 599.7V612.9M431.4 140.6V115.1M431.4 599.7V625.2M514.1 140.6V127.4M514.1 599.7V612.9M596.8 140.6V115.1M596.8 599.7V625.2M679.5 140.6V127.4M679.5 599.7V612.9M762.2 140.6V115.1M762.2 599.7V625.2M844.9 140.6V127.4M844.9 599.7V612.9M927.6 140.6V115.1M927.6 599.7V625.2M1010.3 140.6V127.4M1010.3 599.7V612.9M1093 140.6V115.1M1093 599.7V625.2M266 140.6H240.5M1093 140.6H1118.5M266 198H252.8M1093 198H1106.2M266 255.4H240.5M1093 255.4H1118.5M266 312.8H252.8M1093 312.8H1106.2M266 370.1H240.5M1093 370.1H1118.5M266 427.5H252.8M1093 427.5H1106.2M266 484.9H240.5M1093 484.9H1118.5M266 542.3H252.8M1093 542.3H1106.2M266 599.7H240.5M1093 599.7H1118.5" stroke="#231815" stroke-width="2.7" fill="none"/>
<rect x="266" y="140.6" width="827" height="459.1" fill="none" stroke="#231815" stroke-width="7.6"/>
<path d="M1230.9 140.6V115.1M1230.9 599.7V625.2M1313.6 140.6V127.4M1313.6 599.7V612.9M1396.3 140.6V115.1M1396.3 599.7V625.2M1479 140.6V127.4M1479 599.7V612.9M1561.7 140.6V115.1M1561.7 599.7V625.2M1644.4 140.6V127.4M1644.4 599.7V612.9M1727.1 140.6V115.1M1727.1 599.7V625.2M1809.8 140.6V127.4M1809.8 599.7V612.9M1892.5 140.6V115.1M1892.5 599.7V625.2M1975.2 140.6V127.4M1975.2 599.7V612.9M2057.9 140.6V115.1M2057.9 599.7V625.2M1230.9 140.6H1205.4M2057.9 140.6H2083.4M1230.9 198H1217.7M2057.9 198H2071.1M1230.9 255.4H1205.4M2057.9 255.4H2083.4M1230.9 312.8H1217.7M2057.9 312.8H2071.1M1230.9 370.1H1205.4M2057.9 370.1H2083.4M1230.9 427.5H1217.7M2057.9 427.5H2071.1M1230.9 484.9H1205.4M2057.9 484.9H2083.4M1230.9 542.3H1217.7M2057.9 542.3H2071.1M1230.9 599.7H1205.4M2057.9 599.7H2083.4" stroke="#231815" stroke-width="2.7" fill="none"/>
<rect x="1230.9" y="140.6" width="827" height="459.1" fill="none" stroke="#231815" stroke-width="7.6"/>
<path d="M266 829.1V803.6M266 1287.7V1313.2M348.7 829.1V815.9M348.7 1287.7V1300.9M431.4 829.1V803.6M431.4 1287.7V1313.2M514.1 829.1V815.9M514.1 1287.7V1300.9M596.8 829.1V803.6M596.8 1287.7V1313.2M679.5 829.1V815.9M679.5 1287.7V1300.9M762.2 829.1V803.6M762.2 1287.7V1313.2M844.9 829.1V815.9M844.9 1287.7V1300.9M927.6 829.1V803.6M927.6 1287.7V1313.2M1010.3 829.1V815.9M1010.3 1287.7V1300.9M1093 829.1V803.6M1093 1287.7V1313.2M266 829.1H240.5M1093 829.1H1118.5M266 886.4H252.8M1093 886.4H1106.2M266 943.8H240.5M1093 943.8H1118.5M266 1001.1H252.8M1093 1001.1H1106.2M266 1058.4H240.5M1093 1058.4H1118.5M266 1115.7H252.8M1093 1115.7H1106.2M266 1173H240.5M1093 1173H1118.5M266 1230.4H252.8M1093 1230.4H1106.2M266 1287.7H240.5M1093 1287.7H1118.5" stroke="#231815" stroke-width="2.7" fill="none"/>
<rect x="266" y="829.1" width="827" height="458.6" fill="none" stroke="#231815" stroke-width="7.6"/>
<path d="M1230.9 829.1V803.6M1230.9 1287.7V1313.2M1313.6 829.1V815.9M1313.6 1287.7V1300.9M1396.3 829.1V803.6M1396.3 1287.7V1313.2M1479 829.1V815.9M1479 1287.7V1300.9M1561.7 829.1V803.6M1561.7 1287.7V1313.2M1644.4 829.1V815.9M1644.4 1287.7V1300.9M1727.1 829.1V803.6M1727.1 1287.7V1313.2M1809.8 829.1V815.9M1809.8 1287.7V1300.9M1892.5 829.1V803.6M1892.5 1287.7V1313.2M1975.2 829.1V815.9M1975.2 1287.7V1300.9M2057.9 829.1V803.6M2057.9 1287.7V1313.2M1230.9 829.1H1205.4M2057.9 829.1H2083.4M1230.9 886.4H1217.7M2057.9 886.4H2071.1M1230.9 943.8H1205.4M2057.9 943.8H2083.4M1230.9 1001.1H1217.7M2057.9 1001.1H2071.1M1230.9 1058.4H1205.4M2057.9 1058.4H2083.4M1230.9 1115.7H1217.7M2057.9 1115.7H2071.1M1230.9 1173H1205.4M2057.9 1173H2083.4M1230.9 1230.4H1217.7M2057.9 1230.4H2071.1M1230.9 1287.7H1205.4M2057.9 1287.7H2083.4" stroke="#231815" stroke-width="2.7" fill="none"/>
<rect x="1230.9" y="829.1" width="827" height="458.6" fill="none" stroke="#231815" stroke-width="7.6"/>
<path d="M266 1517V1491.5M266 1975.9V2001.4M348.7 1517V1503.8M348.7 1975.9V1989.1M431.4 1517V1491.5M431.4 1975.9V2001.4M514.1 1517V1503.8M514.1 1975.9V1989.1M596.8 1517V1491.5M596.8 1975.9V2001.4M679.5 1517V1503.8M679.5 1975.9V1989.1M762.2 1517V1491.5M762.2 1975.9V2001.4M844.9 1517V1503.8M844.9 1975.9V1989.1M927.6 1517V1491.5M927.6 1975.9V2001.4M1010.3 1517V1503.8M1010.3 1975.9V1989.1M1093 1517V1491.5M1093 1975.9V2001.4M266 1517H240.5M1093 1517H1118.5M266 1574.4H252.8M1093 1574.4H1106.2M266 1631.7H240.5M1093 1631.7H1118.5M266 1689.1H252.8M1093 1689.1H1106.2M266 1746.5H240.5M1093 1746.5H1118.5M266 1803.8H252.8M1093 1803.8H1106.2M266 1861.2H240.5M1093 1861.2H1118.5M266 1918.5H252.8M1093 1918.5H1106.2M266 1975.9H240.5M1093 1975.9H1118.5" stroke="#231815" stroke-width="2.7" fill="none"/>
<rect x="266" y="1517" width="827" height="458.9" fill="none" stroke="#231815" stroke-width="7.6"/>
<path d="M1230.9 1517V1491.5M1230.9 1975.9V2001.4M1313.6 1517V1503.8M1313.6 1975.9V1989.1M1396.3 1517V1491.5M1396.3 1975.9V2001.4M1479 1517V1503.8M1479 1975.9V1989.1M1561.7 1517V1491.5M1561.7 1975.9V2001.4M1644.4 1517V1503.8M1644.4 1975.9V1989.1M1727.1 1517V1491.5M1727.1 1975.9V2001.4M1809.8 1517V1503.8M1809.8 1975.9V1989.1M1892.5 1517V1491.5M1892.5 1975.9V2001.4M1975.2 1517V1503.8M1975.2 1975.9V1989.1M2057.9 1517V1491.5M2057.9 1975.9V2001.4M1230.9 1517H1205.4M2057.9 1517H2083.4M1230.9 1574.4H1217.7M2057.9 1574.4H2071.1M1230.9 1631.7H1205.4M2057.9 1631.7H2083.4M1230.9 1689.1H1217.7M2057.9 1689.1H2071.1M1230.9 1746.5H1205.4M2057.9 1746.5H2083.4M1230.9 1803.8H1217.7M2057.9 1803.8H2071.1M1230.9 1861.2H1205.4M2057.9 1861.2H2083.4M1230.9 1918.5H1217.7M2057.9 1918.5H2071.1M1230.9 1975.9H1205.4M2057.9 1975.9H2083.4" stroke="#231815" stroke-width="2.7" fill="none"/>
<rect x="1230.9" y="1517" width="827" height="458.9" fill="none" stroke="#231815" stroke-width="7.6"/>
<path d="M266 2205.3V2179.8M266 2666V2691.5M348.7 2205.3V2192.1M348.7 2666V2679.2M431.4 2205.3V2179.8M431.4 2666V2691.5M514.1 2205.3V2192.1M514.1 2666V2679.2M596.8 2205.3V2179.8M596.8 2666V2691.5M679.5 2205.3V2192.1M679.5 2666V2679.2M762.2 2205.3V2179.8M762.2 2666V2691.5M844.9 2205.3V2192.1M844.9 2666V2679.2M927.6 2205.3V2179.8M927.6 2666V2691.5M1010.3 2205.3V2192.1M1010.3 2666V2679.2M1093 2205.3V2179.8M1093 2666V2691.5M266 2205.3H240.5M1093 2205.3H1118.5M266 2262.9H252.8M1093 2262.9H1106.2M266 2320.5H240.5M1093 2320.5H1118.5M266 2378.1H252.8M1093 2378.1H1106.2M266 2435.7H240.5M1093 2435.7H1118.5M266 2493.2H252.8M1093 2493.2H1106.2M266 2550.8H240.5M1093 2550.8H1118.5M266 2608.4H252.8M1093 2608.4H1106.2M266 2666H240.5M1093 2666H1118.5" stroke="#231815" stroke-width="2.7" fill="none"/>
<rect x="266" y="2205.3" width="827" height="460.7" fill="none" stroke="#231815" stroke-width="7.6"/>
<path d="M1230.9 2205.3V2179.8M1230.9 2666V2691.5M1313.6 2205.3V2192.1M1313.6 2666V2679.2M1396.3 2205.3V2179.8M1396.3 2666V2691.5M1479 2205.3V2192.1M1479 2666V2679.2M1561.7 2205.3V2179.8M1561.7 2666V2691.5M1644.4 2205.3V2192.1M1644.4 2666V2679.2M1727.1 2205.3V2179.8M1727.1 2666V2691.5M1809.8 2205.3V2192.1M1809.8 2666V2679.2M1892.5 2205.3V2179.8M1892.5 2666V2691.5M1975.2 2205.3V2192.1M1975.2 2666V2679.2M2057.9 2205.3V2179.8M2057.9 2666V2691.5M1230.9 2205.3H1205.4M2057.9 2205.3H2083.4M1230.9 2262.9H1217.7M2057.9 2262.9H2071.1M1230.9 2320.5H1205.4M2057.9 2320.5H2083.4M1230.9 2378.1H1217.7M2057.9 2378.1H2071.1M1230.9 2435.7H1205.4M2057.9 2435.7H2083.4M1230.9 2493.2H1217.7M2057.9 2493.2H2071.1M1230.9 2550.8H1205.4M2057.9 2550.8H2083.4M1230.9 2608.4H1217.7M2057.9 2608.4H2071.1M1230.9 2666H1205.4M2057.9 2666H2083.4" stroke="#231815" stroke-width="2.7" fill="none"/>
<rect x="1230.9" y="2205.3" width="827" height="460.7" fill="none" stroke="#231815" stroke-width="7.6"/>
<text x="266" y="690.7" font-size="61" text-anchor="middle">0</text>
<text x="431.4" y="690.7" font-size="61" text-anchor="middle">20</text>
<text x="596.8" y="690.7" font-size="61" text-anchor="middle">40</text>
<text x="762.2" y="690.7" font-size="61" text-anchor="middle">60</text>
<text x="927.6" y="690.7" font-size="61" text-anchor="middle">80</text>
<text x="1093" y="690.7" font-size="61" text-anchor="middle">100</text>
<text x="217.7" y="161.5" font-size="61" text-anchor="end">20</text>
<text x="217.7" y="276.3" font-size="61" text-anchor="end">10</text>
<text x="217.7" y="391" font-size="61" text-anchor="end">0</text>
<text x="118.2" y="512.5" font-size="61">−</text>
<text x="217.7" y="505.8" font-size="61" text-anchor="end">10</text>
<text x="118.2" y="627.3" font-size="61">−</text>
<text x="217.7" y="620.6" font-size="61" text-anchor="end">20</text>
<text x="1230.9" y="690.7" font-size="61" text-anchor="middle">0</text>
<text x="1396.3" y="690.7" font-size="61" text-anchor="middle">20</text>
<text x="1561.7" y="690.7" font-size="61" text-anchor="middle">40</text>
<text x="1727.1" y="690.7" font-size="61" text-anchor="middle">60</text>
<text x="1892.5" y="690.7" font-size="61" text-anchor="middle">80</text>
<text x="2057.9" y="690.7" font-size="61" text-anchor="middle">100</text>
<text x="266" y="1378.7" font-size="61" text-anchor="middle">0</text>
<text x="431.4" y="1378.7" font-size="61" text-anchor="middle">20</text>
<text x="596.8" y="1378.7" font-size="61" text-anchor="middle">40</text>
<text x="762.2" y="1378.7" font-size="61" text-anchor="middle">60</text>
<text x="927.6" y="1378.7" font-size="61" text-anchor="middle">80</text>
<text x="1093" y="1378.7" font-size="61" text-anchor="middle">100</text>
<text x="217.7" y="850" font-size="61" text-anchor="end">20</text>
<text x="217.7" y="964.6" font-size="61" text-anchor="end">10</text>
<text x="217.7" y="1079.3" font-size="61" text-anchor="end">0</text>
<text x="118.2" y="1200.7" font-size="61">−</text>
<text x="217.7" y="1194" font-size="61" text-anchor="end">10</text>
<text x="118.2" y="1315.3" font-size="61">−</text>
<text x="217.7" y="1308.6" font-size="61" text-anchor="end">20</text>
<text x="1230.9" y="1378.7" font-size="61" text-anchor="middle">0</text>
<text x="1396.3" y="1378.7" font-size="61" text-anchor="middle">20</text>
<text x="1561.7" y="1378.7" font-size="61" text-anchor="middle">40</text>
<text x="1727.1" y="1378.7" font-size="61" text-anchor="middle">60</text>
<text x="1892.5" y="1378.7" font-size="61" text-anchor="middle">80</text>
<text x="2057.9" y="1378.7" font-size="61" text-anchor="middle">100</text>
<text x="266" y="2066.9" font-size="61" text-anchor="middle">0</text>
<text x="431.4" y="2066.9" font-size="61" text-anchor="middle">20</text>
<text x="596.8" y="2066.9" font-size="61" text-anchor="middle">40</text>
<text x="762.2" y="2066.9" font-size="61" text-anchor="middle">60</text>
<text x="927.6" y="2066.9" font-size="61" text-anchor="middle">80</text>
<text x="1093" y="2066.9" font-size="61" text-anchor="middle">100</text>
<text x="217.7" y="1537.9" font-size="61" text-anchor="end">20</text>
<text x="217.7" y="1652.6" font-size="61" text-anchor="end">10</text>
<text x="217.7" y="1767.4" font-size="61" text-anchor="end">0</text>
<text x="118.2" y="1888.8" font-size="61">−</text>
<text x="217.7" y="1882.1" font-size="61" text-anchor="end">10</text>
<text x="118.2" y="2003.5" font-size="61">−</text>
<text x="217.7" y="1996.8" font-size="61" text-anchor="end">20</text>
<text x="1230.9" y="2066.9" font-size="61" text-anchor="middle">0</text>
<text x="1396.3" y="2066.9" font-size="61" text-anchor="middle">20</text>
<text x="1561.7" y="2066.9" font-size="61" text-anchor="middle">40</text>
<text x="1727.1" y="2066.9" font-size="61" text-anchor="middle">60</text>
<text x="1892.5" y="2066.9" font-size="61" text-anchor="middle">80</text>
<text x="2057.9" y="2066.9" font-size="61" text-anchor="middle">100</text>
<text x="266" y="2757" font-size="61" text-anchor="middle">0</text>
<text x="431.4" y="2757" font-size="61" text-anchor="middle">20</text>
<text x="596.8" y="2757" font-size="61" text-anchor="middle">40</text>
<text x="762.2" y="2757" font-size="61" text-anchor="middle">60</text>
<text x="927.6" y="2757" font-size="61" text-anchor="middle">80</text>
<text x="1093" y="2757" font-size="61" text-anchor="middle">100</text>
<text x="217.7" y="2226.2" font-size="61" text-anchor="end">20</text>
<text x="217.7" y="2341.4" font-size="61" text-anchor="end">10</text>
<text x="217.7" y="2456.6" font-size="61" text-anchor="end">0</text>
<text x="118.2" y="2578.4" font-size="61">−</text>
<text x="217.7" y="2571.7" font-size="61" text-anchor="end">10</text>
<text x="118.2" y="2693.6" font-size="61">−</text>
<text x="217.7" y="2686.9" font-size="61" text-anchor="end">20</text>
<text x="1230.9" y="2757" font-size="61" text-anchor="middle">0</text>
<text x="1396.3" y="2757" font-size="61" text-anchor="middle">20</text>
<text x="1561.7" y="2757" font-size="61" text-anchor="middle">40</text>
<text x="1727.1" y="2757" font-size="61" text-anchor="middle">60</text>
<text x="1892.5" y="2757" font-size="61" text-anchor="middle">80</text>
<text x="2057.9" y="2757" font-size="61" text-anchor="middle">100</text>
<text y="92.1" font-size="85" x="161.8 193.7 250.6 290.6 295.5 360.4 411.2 462 512.7">(a) D0007</text>
<text y="92.6" font-size="85" x="1127 1157.6 1215 1255 1259.3 1324.2 1375 1425.8 1476.5">(b) D0001</text>
<text y="773.7" font-size="85" x="161.9 193.5 245.1 285.1 290.9 355.8 406.6 457.4 508.1">(c) D0004</text>
<text y="773.9" font-size="85" x="1127 1158.9 1215 1255 1260.2 1325.1 1385.3 1436.1 1486.9">(d) DS002</text>
<text y="1462.4" font-size="85" x="161.9 193.5 249.8 289.8 295.6 360.5 411.3 462.1 512.8">(e) D0003</text>
<text y="1463" font-size="85" x="1127 1158.8 1192.5 1232.5 1236.8 1301.7 1352.5 1403.3 1454">(f) D0005</text>
<text y="2145.7" font-size="85" x="161.9 193.5 249.8 289.8 294.8 359.7 419.9 470.7 521.5">(g) DX001</text>
<text y="2145.6" font-size="85" x="1127 1158.1 1215 1255 1260.2 1325.1 1385.3 1436.1 1486.9">(h) DB001</text>
<text transform="translate(80.3 660.1) rotate(-90)" x="0" y="0" font-size="71" style="letter-spacing:1.9px">Displacement (cm)</text>
<text transform="translate(80.3 1350.3) rotate(-90)" x="0" y="0" font-size="71" style="letter-spacing:1.9px">Displacement (cm)</text>
<text transform="translate(80.3 2006.1) rotate(-90)" x="0" y="0" font-size="71" style="letter-spacing:1.9px">Displacement (cm)</text>
<text transform="translate(80.3 2697.4) rotate(-90)" x="0" y="0" font-size="71" style="letter-spacing:1.9px">Displacement (cm)</text>
<text x="427.2" y="2865.5" font-size="72.5" style="letter-spacing:1.0px">Time from the earthquake inititation (seconds)</text>
<path d="M234.5 2954.0H574.4" stroke="#00c3d6" stroke-width="2.8"/>
<path d="M883.4 2954.0H1223.6" stroke="#ff9db3" stroke-width="2.8"/>
<path d="M1553.4 2954.0H1892.8" stroke="#000000" stroke-width="2.8"/>
<text x="628.6" y="2978.8" font-size="70" style="letter-spacing:3.0px;fill:#00c3d6">east</text>
<text x="1278.6" y="2978.8" font-size="70" style="letter-spacing:2.9px;fill:#ff9db3">north</text>
<text x="1946.9" y="2977.4" font-size="70" style="letter-spacing:3.5px;fill:#000000">uplift</text>
</g>
</svg></body></html>
